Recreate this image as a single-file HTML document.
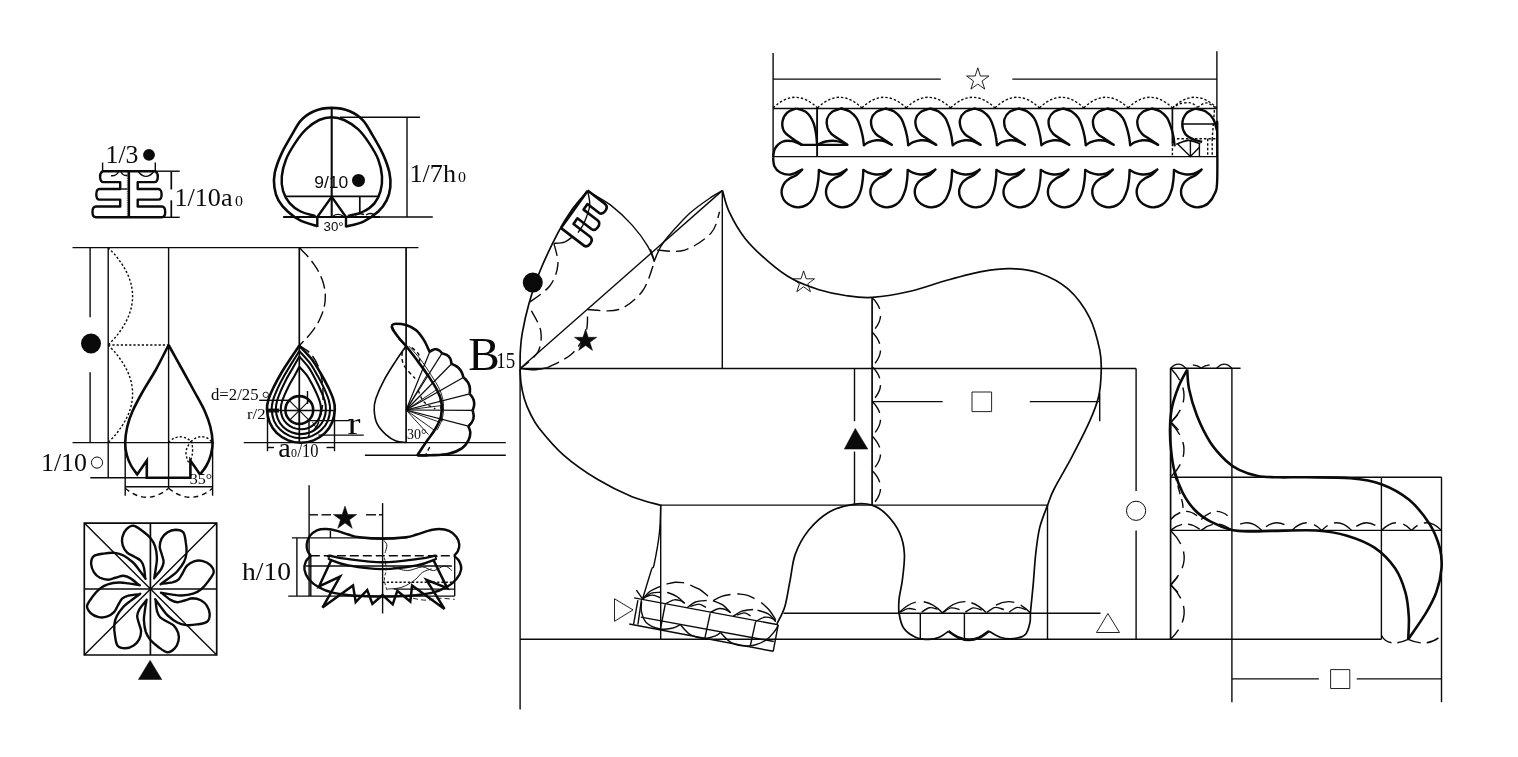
<!DOCTYPE html>
<html><head><meta charset="utf-8"><title>diagram</title>
<style>
html,body{margin:0;padding:0;background:#fff;}
body{width:1518px;height:757px;overflow:hidden;font-family:"Liberation Serif",serif;}
svg{display:block;will-change:transform;}
</style></head><body>
<svg width="1518" height="757" viewBox="0 0 1518 757" stroke-linecap="butt" stroke-linejoin="miter">
<path d="M102.6 162.5 L102.6 171.2" fill="none" stroke="#0a0a0a" stroke-width="1.4"/>
<path d="M155.3 162.5 L155.3 171.2" fill="none" stroke="#0a0a0a" stroke-width="1.4"/>
<path d="M155.3 171.2 L179.7 171.2" fill="none" stroke="#0a0a0a" stroke-width="1.4"/>
<path d="M163 217.3 L179.7 217.3" fill="none" stroke="#0a0a0a" stroke-width="1.4"/>
<path d="M171.3 172 L171.3 189.5" fill="none" stroke="#0a0a0a" stroke-width="1.7"/>
<path d="M171.3 200.3 L171.3 217.3" fill="none" stroke="#0a0a0a" stroke-width="1.7"/>
<path d="M102 171.2 L156 171.2" fill="none" stroke="#0a0a0a" stroke-width="2.4"/>
<path d="M102.6 171.2 C100.6 172.5 99.9 175 100.1 177.1 C100.3 180 101.4 182.1 103.4 182.1 L120.2 182.1 L120.2 189 L99.6 189 C97.2 189 96.3 192 96.3 194.4 C96.3 197.2 97.4 199.6 99.6 199.6 L120.2 199.6 L120.2 206.5 L96 206.5 C93.4 206.5 92.5 209.5 92.5 212 C92.5 214.6 93.6 217.3 96 217.3 L128.9 217.3" fill="none" stroke="#0a0a0a" stroke-width="2.4" stroke-linejoin="round"/>
<path d="M155.3 171.2 C157.3 172.5 158 175 157.8 177.1 C157.6 180 156.5 182.1 154.5 182.1 L137.7 182.1 L137.7 189 L158.2 189 C160.6 189 161.6 192 161.6 194.4 C161.6 197.2 160.5 199.6 158.2 199.6 L137.7 199.6 L137.7 206.5 L161.8 206.5 C164.4 206.5 165.2 209.5 165.2 212 C165.2 214.6 164.2 217.3 161.8 217.3 L128.9 217.3" fill="none" stroke="#0a0a0a" stroke-width="2.4" stroke-linejoin="round"/>
<path d="M128.9 171.2 L128.9 217.3" fill="none" stroke="#0a0a0a" stroke-width="2.4"/>
<path d="M127.3 171.2 L127.3 217.3" fill="none" stroke="#0a0a0a" stroke-width="0.7" stroke-dasharray="1.2 1"/>
<path d="M120.2 189 L127.5 189" fill="none" stroke="#0a0a0a" stroke-width="1.4"/>
<path d="M111 175.7 Q116 176.4 118.5 172" fill="none" stroke="#0a0a0a" stroke-width="1.4"/>
<path d="M121 172 Q123.1 175.9 127.5 175.5" fill="none" stroke="#0a0a0a" stroke-width="1.4"/>
<path d="M138.5 172 Q146 180.8 153.5 172" fill="none" stroke="#0a0a0a" stroke-width="1.4"/>
<text x="105.5" y="162.6" font-family="'Liberation Serif', serif" font-size="26" fill="#0a0a0a" text-anchor="start" textLength="33" lengthAdjust="spacingAndGlyphs">1/3</text>
<circle cx="149" cy="154.8" r="5.9" fill="#0a0a0a"/>
<text x="174.5" y="205.9" font-family="'Liberation Serif', serif" font-size="26" fill="#0a0a0a" text-anchor="start" textLength="58" lengthAdjust="spacingAndGlyphs">1/10a</text>
<text x="235" y="205.9" font-family="'Liberation Serif', serif" font-size="15" fill="#0a0a0a" text-anchor="start" textLength="8" lengthAdjust="spacingAndGlyphs">0</text>
<path d="M317.3 226.2 C314.5 225.3 305.6 223.1 300.7 220.7 C295.8 218.2 291.4 214.9 287.7 211.5 C284 208.1 280.7 204.4 278.5 200.4 C276.3 196.4 275 192 274.4 187.4 C273.8 182.8 273.6 178.2 274.8 172.6 C276 167 278.5 160.2 281.3 154.1 C284.1 147.9 288.1 141.3 291.4 135.7 C294.7 130.1 297.2 124.5 301 120.4 C304.8 116.3 308.9 113.3 314 111.2 C319.1 109.1 325.7 107.9 331.7 107.9 C337.7 107.9 344.6 109.1 349.8 111.2 C355 113.3 359.2 116.3 363 120.4 C366.8 124.5 369.5 130.1 372.8 135.7 C376.1 141.3 380.1 147.9 382.9 154.1 C385.7 160.2 388.2 167 389.4 172.6 C390.6 178.2 390.8 182.8 390.3 187.4 C389.8 192 388.6 196.4 386.6 200.4 C384.6 204.4 382.2 208 378.3 211.5 C374.4 215 368.9 219.1 363.5 221.6 C358.1 224.1 348.9 225.8 346 226.6" fill="none" stroke="#0a0a0a" stroke-width="2.6"/>
<path d="M317.3 227 L317.3 217" fill="none" stroke="#0a0a0a" stroke-width="2.4"/>
<path d="M346 227.4 L346 217" fill="none" stroke="#0a0a0a" stroke-width="2.4"/>
<path d="M315.5 216.1 C313 215.3 305 213.7 300.7 211.5 C296.4 209.3 292.5 206.5 289.6 203.1 C286.7 199.7 284.4 195.6 283.1 191.1 C281.8 186.6 281.3 181.5 281.8 176.3 C282.3 171.1 283.7 165.2 285.9 159.7 C288.1 154.2 291.7 148.2 295.1 143.1 C298.5 138 302.2 133 306.2 129.2 C310.2 125.3 314.9 122 319.1 120 C323.4 118 327.5 117.2 331.7 117.2 C335.9 117.2 339.7 118 344.1 120 C348.5 122 353.8 125.3 358 129.2 C362.2 133 365.7 138 369.1 143.1 C372.5 148.2 376.2 154.2 378.3 159.7 C380.4 165.2 381.6 171.1 382 176.3 C382.4 181.5 381.7 186.6 380.5 191.1 C379.3 195.6 377.4 199.7 374.6 203.1 C371.8 206.5 368 209.3 363.5 211.5 C359 213.7 350.4 215.3 347.8 216.1" fill="none" stroke="#0a0a0a" stroke-width="2.5"/>
<path d="M331.7 107.9 L331.7 217" fill="none" stroke="#0a0a0a" stroke-width="2.1"/>
<path d="M285 196.3 L378.3 196.3" fill="none" stroke="#0a0a0a" stroke-width="1.7"/>
<path d="M317.3 217 L331.7 196.8 L346 217" fill="none" stroke="#0a0a0a" stroke-width="2.4"/>
<path d="M359.8 196.3 L359.8 213.3" fill="none" stroke="#0a0a0a" stroke-width="1.7"/>
<path d="M283.1 217 L380 217" fill="none" stroke="#0a0a0a" stroke-width="1.9"/>
<path d="M380 217 L432.8 217" fill="none" stroke="#0a0a0a" stroke-width="1.4"/>
<path d="M340 117.2 L419.9 117.2" fill="none" stroke="#0a0a0a" stroke-width="1.4"/>
<path d="M407 117.2 L407 217" fill="none" stroke="#0a0a0a" stroke-width="1.4"/>
<path d="M333 216 Q338 212.8 343 216" fill="none" stroke="#0a0a0a" stroke-width="1.4"/>
<path d="M355 215.5 Q359.2 212.6 364 214.5" fill="none" stroke="#0a0a0a" stroke-width="1.4"/>
<path d="M366 215 Q369.9 212.4 374 214.5" fill="none" stroke="#0a0a0a" stroke-width="1.4"/>
<text x="314.3" y="188.4" font-family="'Liberation Sans', serif" font-size="17" fill="#0a0a0a" text-anchor="start" textLength="34" lengthAdjust="spacingAndGlyphs">9/10</text>
<circle cx="358.5" cy="180.4" r="6.5" fill="#0a0a0a"/>
<text x="323.6" y="231" font-family="'Liberation Sans', serif" font-size="13.5" fill="#0a0a0a" text-anchor="start" textLength="20" lengthAdjust="spacingAndGlyphs">30°</text>
<text x="409.5" y="182.2" font-family="'Liberation Serif', serif" font-size="26" fill="#0a0a0a" text-anchor="start" textLength="46.5" lengthAdjust="spacingAndGlyphs">1/7h</text>
<text x="458" y="182.2" font-family="'Liberation Serif', serif" font-size="15" fill="#0a0a0a" text-anchor="start" textLength="8" lengthAdjust="spacingAndGlyphs">0</text>
<path d="M72.5 247.6 L418.4 247.6" fill="none" stroke="#0a0a0a" stroke-width="1.4"/>
<path d="M90.1 247.6 L90.1 317.3" fill="none" stroke="#0a0a0a" stroke-width="1.4"/>
<path d="M90.1 372.2 L90.1 442.6" fill="none" stroke="#0a0a0a" stroke-width="1.4"/>
<path d="M108.2 247.6 L108.2 477.8" fill="none" stroke="#0a0a0a" stroke-width="1.4"/>
<path d="M168.6 247.6 L168.6 488" fill="none" stroke="#0a0a0a" stroke-width="1.4"/>
<path d="M299.3 247.6 L299.3 442.3" fill="none" stroke="#0a0a0a" stroke-width="1.7"/>
<path d="M406.1 247.6 L406.1 442.5" fill="none" stroke="#0a0a0a" stroke-width="1.7"/>
<path d="M72.5 442.6 L213.4 442.6" fill="none" stroke="#0a0a0a" stroke-width="1.4"/>
<path d="M243.7 442.6 L505.8 442.6" fill="none" stroke="#0a0a0a" stroke-width="1.4"/>
<path d="M364.9 455.3 L505.8 455.3" fill="none" stroke="#0a0a0a" stroke-width="1.4"/>
<path d="M90.3 477.8 L147 477.8" fill="none" stroke="#0a0a0a" stroke-width="1.4"/>
<circle cx="91" cy="343.5" r="10" fill="#0a0a0a"/>
<path d="M108.2 247.6 C109.4 249 113.4 253 115.7 255.7 C117.9 258.4 119.9 261.1 121.8 263.8 C123.6 266.5 125.1 269.2 126.5 271.9 C127.9 274.7 129 277.4 129.9 280.1 C130.8 282.8 131.5 285.5 131.9 288.2 C132.4 290.9 132.6 293.6 132.6 296.3 C132.6 299 132.4 301.7 131.9 304.4 C131.5 307.1 130.8 309.8 129.9 312.5 C129 315.2 127.9 317.9 126.5 320.6 C125.1 323.4 123.6 326.1 121.8 328.8 C119.9 331.5 117.9 334.2 115.7 336.9 C113.4 339.6 109.4 343.6 108.2 345" fill="none" stroke="#0a0a0a" stroke-width="1.4" stroke-dasharray="2.2 2"/>
<path d="M108.2 345 C109.4 346.4 113.4 350.4 115.7 353.1 C117.9 355.8 119.9 358.6 121.8 361.3 C123.6 364 125.1 366.7 126.5 369.4 C127.9 372.1 129 374.8 129.9 377.5 C130.8 380.2 131.5 383 131.9 385.7 C132.4 388.4 132.6 391.1 132.6 393.8 C132.6 396.5 132.4 399.2 131.9 401.9 C131.5 404.6 130.8 407.4 129.9 410.1 C129 412.8 127.9 415.5 126.5 418.2 C125.1 420.9 123.6 423.6 121.8 426.3 C119.9 429 117.9 431.8 115.7 434.5 C113.4 437.2 109.4 441.2 108.2 442.6" fill="none" stroke="#0a0a0a" stroke-width="1.4" stroke-dasharray="2.2 2"/>
<path d="M108.2 345 L168.6 345" fill="none" stroke="#0a0a0a" stroke-width="1.4" stroke-dasharray="2.2 2"/>
<path d="M168.6 345 C166.4 349.2 160 362.2 155.7 370 C151.3 377.8 146.3 385.2 142.5 392 C138.7 398.8 135.2 405.2 132.6 411 C130 416.8 128.4 421.7 127.2 427 C126 432.3 125.3 437.9 125.2 442.6 C125.1 447.3 125.8 451.2 126.8 455 C127.8 458.8 129.3 462.3 131 465.5 C132.7 468.7 136.2 472.9 137.2 474.4 L146.8 460.6 L146.8 477.8 L190.4 477.8 L190.4 460.6 L200.1 474.4" fill="none" stroke="#0a0a0a" stroke-width="2.6" stroke-linejoin="miter"/>
<path d="M200.1 474.4 C201.2 472.9 204.7 468.7 206.5 465.5 C208.3 462.3 209.8 458.8 210.8 455 C211.8 451.2 212.7 447.3 212.6 442.6 C212.5 437.9 211.7 432.3 210.4 427 C209.1 421.7 207.3 416.8 204.7 411 C202.1 405.2 198.3 398.8 194.6 392 C190.9 385.2 186.8 377.8 182.5 370 C178.2 362.2 170.9 349.2 168.6 345" fill="none" stroke="#0a0a0a" stroke-width="2.6"/>
<path d="M125.2 442.6 L125.2 495.7" fill="none" stroke="#0a0a0a" stroke-width="1.4"/>
<path d="M212.6 442.6 L212.6 495.7" fill="none" stroke="#0a0a0a" stroke-width="1.4"/>
<path d="M125.2 486.8 L212.6 486.8" fill="none" stroke="#0a0a0a" stroke-width="1.4"/>
<path d="M125.2 488.3 Q146.9 506.3 168.6 488.3" fill="none" stroke="#0a0a0a" stroke-width="1.4" stroke-dasharray="5 4"/>
<path d="M168.6 488.3 Q190.6 506.3 212.6 488.3" fill="none" stroke="#0a0a0a" stroke-width="1.4" stroke-dasharray="5 4"/>
<path d="M168.6 442.3 C169.5 441.6 171.9 439.1 174 438.2 C176.1 437.3 178.8 436.8 181 436.8 C183.2 436.9 185.3 437.7 187 438.5 C188.7 439.3 190.3 441 191 441.5" fill="none" stroke="#0a0a0a" stroke-width="1.4" stroke-dasharray="2.2 2"/>
<path d="M191 441.5 C191.8 440.9 194.2 438.6 196 437.8 C197.8 437 200 436.7 202 436.8 C204 436.9 206.2 437.5 208 438.5 C209.8 439.5 211.8 441.9 212.6 442.6" fill="none" stroke="#0a0a0a" stroke-width="1.4" stroke-dasharray="2.2 2"/>
<path d="M191.5 441 C190.8 442 188.4 445 187.5 447 C186.6 449 186 450.8 186 453 C186 455.2 186.8 458 187.5 460 C188.2 462 189.9 464.2 190.4 465" fill="none" stroke="#0a0a0a" stroke-width="1.4" stroke-dasharray="2.2 2"/>
<path d="M191.5 441 C191.7 442.3 192.5 446.5 192.6 449 C192.7 451.5 192.4 454 192 456 C191.6 458 190.7 460.2 190.4 461" fill="none" stroke="#0a0a0a" stroke-width="1.4" stroke-dasharray="2.2 2"/>
<text x="189.7" y="483.8" font-family="'Liberation Serif', serif" font-size="15.5" fill="#0a0a0a" text-anchor="start" textLength="22.5" lengthAdjust="spacingAndGlyphs">35°</text>
<text x="41" y="470.8" font-family="'Liberation Serif', serif" font-size="26" fill="#0a0a0a" text-anchor="start" textLength="46" lengthAdjust="spacingAndGlyphs">1/10</text>
<circle cx="97" cy="462.6" r="5.6" fill="none" stroke="#0a0a0a" stroke-width="1"/>
<path d="M299.3 345.6 C297.8 347.8 293.3 354.3 290.4 358.8 C287.4 363.3 284.4 367.7 281.6 372.5 C278.8 377.3 275.6 383.1 273.4 387.6 C271.3 392.1 269.6 395.7 268.5 399.4 C267.4 403 266.8 405.7 267 409.6 C267.2 413.5 268 418.7 269.7 422.6 C271.3 426.5 273.8 430.1 276.9 433.1 C280 436 284.2 438.8 288.2 440.4 C292.2 442 296.7 442.8 300.9 442.8 C305.1 442.8 309.6 442 313.6 440.4 C317.6 438.8 321.8 436 324.9 433.1 C328 430.1 330.5 426.5 332.1 422.6 C333.8 418.7 334.6 413.5 334.8 409.6 C335 405.7 334.4 403 333.3 399.4 C332.2 395.7 330.5 392.1 328.4 387.6 C326.2 383.1 323 377.3 320.2 372.5 C317.4 367.7 314.9 363.3 311.4 358.8 C307.9 354.3 301.3 347.8 299.3 345.6" fill="none" stroke="#0a0a0a" stroke-width="2.6"/>
<path d="M299.3 351 C298.1 353 294.4 359 291.8 363.1 C289.3 367.2 286.7 371.2 284.3 375.6 C281.8 380 279.1 385.3 277.2 389.4 C275.4 393.5 273.9 396.9 273 400.2 C272.1 403.6 271.5 406.2 271.7 409.6 C271.9 413 272.6 417.4 274 420.8 C275.4 424.1 277.6 427.3 280.3 429.8 C282.9 432.4 286.5 434.7 290 436.1 C293.4 437.5 297.3 438.2 300.9 438.2 C304.5 438.2 308.4 437.5 311.8 436.1 C315.3 434.7 318.9 432.4 321.5 429.8 C324.2 427.3 326.4 424.1 327.8 420.8 C329.2 417.4 329.9 413 330.1 409.6 C330.3 406.2 329.7 403.6 328.8 400.2 C327.9 396.9 326.4 393.5 324.6 389.4 C322.7 385.3 320 380 317.5 375.6 C315.1 371.2 313 367.2 310 363.1 C306.9 359 301.1 353 299.3 351" fill="none" stroke="#0a0a0a" stroke-width="2.1"/>
<path d="M299.3 356.5 C298.3 358.3 295.3 363.7 293.1 367.4 C291 371.2 288.7 374.8 286.6 378.8 C284.6 382.8 282.3 387.6 280.6 391.3 C279 395.1 277.8 398.1 277 401.1 C276.2 404.1 275.8 406.6 275.9 409.6 C276 412.6 276.7 416.3 277.9 419.2 C279.1 422.1 280.9 424.7 283.2 426.9 C285.5 429.1 288.6 431.1 291.5 432.3 C294.5 433.5 297.8 434.1 300.9 434.1 C304 434.1 307.3 433.5 310.3 432.3 C313.2 431.1 316.3 429.1 318.6 426.9 C320.9 424.7 322.7 422.1 323.9 419.2 C325.1 416.3 325.8 412.6 325.9 409.6 C326 406.6 325.6 404.1 324.8 401.1 C324 398.1 322.8 395.1 321.1 391.3 C319.5 387.6 317.2 382.8 315.1 378.8 C313.1 374.8 311.3 371.2 308.6 367.4 C306 363.7 300.9 358.3 299.3 356.5" fill="none" stroke="#0a0a0a" stroke-width="2.1"/>
<path d="M299.3 366.8 C298.5 368.3 296.3 372.6 294.7 375.6 C293 378.6 291.1 381.6 289.4 384.8 C287.8 388 285.9 391.9 284.6 394.9 C283.3 397.9 282.3 400.3 281.7 402.8 C281 405.2 280.7 407.2 280.8 409.6 C280.9 412 281.4 415 282.4 417.3 C283.4 419.6 284.9 421.8 286.7 423.5 C288.5 425.3 291 426.9 293.4 427.9 C295.7 428.8 298.4 429.3 300.9 429.3 C303.4 429.3 306.1 428.8 308.4 427.9 C310.8 426.9 313.3 425.3 315.1 423.5 C316.9 421.8 318.4 419.6 319.4 417.3 C320.4 415 320.9 412 321 409.6 C321.1 407.2 320.8 405.2 320.1 402.8 C319.5 400.3 318.5 397.9 317.2 394.9 C315.9 391.9 314 388 312.4 384.8 C310.7 381.6 309.3 378.6 307.1 375.6 C305 372.6 300.6 368.3 299.3 366.8" fill="none" stroke="#0a0a0a" stroke-width="2.1"/>
<circle cx="299.3" cy="410" r="13.9" fill="none" stroke="#0a0a0a" stroke-width="2.6"/>
<path d="M285.3 410.5 L313.3 410.5" fill="none" stroke="#0a0a0a" stroke-width="1.1"/>
<path d="M289.4 400.6 L309.2 420.4" fill="none" stroke="#0a0a0a" stroke-width="1.1"/>
<path d="M299.3 396.5 L299.3 424.5" fill="none" stroke="#0a0a0a" stroke-width="1.1"/>
<path d="M309.2 400.6 L289.4 420.4" fill="none" stroke="#0a0a0a" stroke-width="1.1"/>
<path d="M267.5 410.5 L335 410.5" fill="none" stroke="#0a0a0a" stroke-width="1.4"/>
<path d="M259.2 400.3 L288.8 400.3" fill="none" stroke="#0a0a0a" stroke-width="1.4"/>
<path d="M267 409.3 L279 409.3" fill="none" stroke="#0a0a0a" stroke-width="1.4"/>
<path d="M267 411.8 L279 411.8" fill="none" stroke="#0a0a0a" stroke-width="1.4"/>
<path d="M267.5 411.4 L267.5 451.2" fill="none" stroke="#0a0a0a" stroke-width="1.4"/>
<path d="M334.5 411.4 L334.5 451.2" fill="none" stroke="#0a0a0a" stroke-width="1.4"/>
<path d="M267.5 447.5 L274 447.5" fill="none" stroke="#0a0a0a" stroke-width="1.4"/>
<path d="M326.5 447.5 L334.5 447.5" fill="none" stroke="#0a0a0a" stroke-width="1.4"/>
<path d="M308.2 420.6 L349.8 420.6" fill="none" stroke="#0a0a0a" stroke-width="1.4"/>
<path d="M318.4 435.1 L363.7 435.1" fill="none" stroke="#0a0a0a" stroke-width="1.4"/>
<path d="M307.5 391 L307.5 404" fill="none" stroke="#0a0a0a" stroke-width="1.4"/>
<path d="M309 420.6 L309 437" fill="none" stroke="#0a0a0a" stroke-width="1.4"/>
<path d="M312.5 422 L316.5 428.5 L322 411" fill="none" stroke="#0a0a0a" stroke-width="0.9"/>
<path d="M299.3 247.6 C300.6 249 304.8 253.1 307.2 255.8 C309.7 258.5 311.8 261.2 313.7 263.9 C315.7 266.7 317.4 269.4 318.8 272.1 C320.2 274.9 321.4 277.6 322.4 280.3 C323.4 283 324.1 285.8 324.6 288.5 C325.1 291.2 325.3 293.9 325.3 296.6 C325.3 299.4 325.1 302.1 324.6 304.8 C324.1 307.6 323.4 310.3 322.4 313 C321.4 315.7 320.2 318.4 318.8 321.2 C317.4 323.9 315.7 326.6 313.7 329.4 C311.8 332.1 309.7 334.8 307.2 337.5 C304.8 340.2 300.6 344.3 299.3 345.7" fill="none" stroke="#0a0a0a" stroke-width="1.4" stroke-dasharray="13 5"/>
<path d="M299.3 345.6 C301.1 346.8 306.8 349.8 309.9 353 C313 356.2 315.8 360.9 317.7 365 C319.6 369.1 320.7 373.4 321.6 377.9 C322.5 382.3 322.9 386.8 323 391.7 C323.1 396.6 323.2 401.7 322.3 407.1 C321.4 412.5 320.1 419.4 317.7 424.3 C315.3 429.2 309.8 434.3 308.2 436.3" fill="none" stroke="#0a0a0a" stroke-width="1.4" stroke-dasharray="12 5"/>
<text x="211" y="399.6" font-family="'Liberation Serif', serif" font-size="16" fill="#0a0a0a" text-anchor="start" textLength="47.5" lengthAdjust="spacingAndGlyphs">d=2/25</text>
<circle cx="265.8" cy="394.8" r="2.7" fill="none" stroke="#0a0a0a" stroke-width="0.9"/>
<text x="247" y="418.9" font-family="'Liberation Serif', serif" font-size="15.5" fill="#0a0a0a" text-anchor="start" textLength="18.5" lengthAdjust="spacingAndGlyphs">r/2</text>
<text x="347.5" y="433.8" font-family="'Liberation Serif', serif" font-size="31" fill="#0a0a0a" text-anchor="start" textLength="13" lengthAdjust="spacingAndGlyphs">r</text>
<text x="278.3" y="457.3" font-family="'Liberation Serif', serif" font-size="27" fill="#0a0a0a" text-anchor="start" textLength="12.5" lengthAdjust="spacingAndGlyphs">a</text>
<text x="291" y="457.3" font-family="'Liberation Serif', serif" font-size="12" fill="#0a0a0a" text-anchor="start" textLength="6" lengthAdjust="spacingAndGlyphs">0</text>
<text x="297.5" y="457.3" font-family="'Liberation Serif', serif" font-size="19" fill="#0a0a0a" text-anchor="start" textLength="21" lengthAdjust="spacingAndGlyphs">/10</text>
<path d="M406.1 346 C404.4 348.4 399.7 354.8 396 360.6 C392.3 366.4 387 374.4 383.7 380.8 C380.3 387.1 377.4 393.9 375.8 398.7 C374.2 403.6 374 405.8 374.2 410 C374.4 414.1 375 419.3 376.9 423.4 C378.9 427.5 382.7 431.7 385.9 434.6 C389.1 437.6 392.6 439.6 396 440.9 C399.4 442.2 404.4 442.2 406.1 442.5" fill="none" stroke="#0a0a0a" stroke-width="1.6"/>
<path d="M406.1 346 C408 348.4 413.6 355.5 417.3 360.6 C421.1 365.6 425.2 371.3 428.5 376.3 C431.9 381.4 435.4 386.4 437.5 390.9 C439.7 395.4 441 398.9 441.6 403.2 C442.1 407.5 441.9 412.4 440.9 416.7 C439.8 421 437.5 425.1 435.3 429 C433 433 430.4 435.9 427.4 440.3 C424.4 444.6 419 452.8 417.3 455.3" fill="none" stroke="#0a0a0a" stroke-width="2.6"/>
<path d="M408.8 346 C410.7 348.1 416.3 353.9 420 358.8 C423.8 363.7 427.9 370 431.2 375.2 C434.5 380.3 437.7 385.1 439.8 389.8 C441.8 394.4 442.9 398.6 443.4 403.2 C443.8 407.9 443.5 413.3 442.5 417.8 C441.4 422.3 438 428.1 437.1 430.2" fill="none" stroke="#0a0a0a" stroke-width="0.9"/>
<path d="M406.1 346 C404.8 344.5 400.5 339.8 398.2 337 C396 334.2 393.6 331.2 392.6 329.2 C391.6 327.2 391.6 326 392.2 325.1 C392.8 324.2 393.7 323.8 396 323.8 C398.3 323.8 402.7 324 406.1 325.1 C409.5 326.2 413.2 327.8 416.2 330.3 C419.2 332.8 421.8 336.8 424.1 340.4 C426.3 344 428.7 350.1 429.7 352.1" fill="none" stroke="#0a0a0a" stroke-width="2.6"/>
<path d="M392.6 326.5 C393.2 327.7 394.7 331.2 396 333.7 C397.3 336.2 398.8 339.5 400.5 341.5 C402.2 343.6 405.2 345.3 406.1 346" fill="none" stroke="#0a0a0a" stroke-width="0.9"/>
<path d="M429.7 352.1 C430 351.8 430.8 351.1 431.4 350.7 C431.9 350.4 432.5 350.1 433 349.8 C433.6 349.6 434.1 349.4 434.6 349.3 C435.2 349.3 435.7 349.2 436.2 349.3 C436.7 349.4 437.2 349.5 437.7 349.7 C438.2 349.9 438.7 350.2 439.2 350.5 C439.7 350.8 440.2 351.3 440.6 351.7 C441.1 352.2 441.8 353.1 442 353.4" fill="none" stroke="#0a0a0a" stroke-width="2.6"/>
<path d="M442 353.4 C442.4 353.5 443.5 353.7 444.2 353.9 C444.8 354.1 445.4 354.3 446 354.6 C446.6 354.8 447.1 355.2 447.6 355.5 C448.1 355.9 448.5 356.3 448.9 356.7 C449.3 357.2 449.7 357.6 450 358.2 C450.3 358.7 450.5 359.2 450.7 359.8 C450.9 360.4 451.1 361.1 451.2 361.8 C451.3 362.5 451.4 363.6 451.4 364" fill="none" stroke="#0a0a0a" stroke-width="2.6"/>
<path d="M451.4 364 C451.8 364.1 453.1 364.5 453.8 364.9 C454.6 365.2 455.3 365.6 455.9 366 C456.6 366.4 457.2 366.8 457.8 367.3 C458.4 367.8 458.9 368.3 459.4 368.9 C459.9 369.5 460.4 370.1 460.8 370.7 C461.2 371.3 461.6 372 461.9 372.7 C462.2 373.4 462.5 374.2 462.7 375 C463 375.7 463.2 377 463.3 377.4" fill="none" stroke="#0a0a0a" stroke-width="2.6"/>
<path d="M463.3 377.4 C463.6 377.7 464.6 378.5 465.2 379 C465.8 379.6 466.3 380.2 466.8 380.8 C467.3 381.4 467.7 382 468.1 382.7 C468.4 383.3 468.7 384 469 384.6 C469.3 385.3 469.5 386 469.6 386.8 C469.8 387.5 469.9 388.2 469.9 389 C470 389.7 470 390.5 469.9 391.3 C469.9 392.1 469.7 393.4 469.6 393.8" fill="none" stroke="#0a0a0a" stroke-width="2.6"/>
<path d="M469.6 393.8 C469.9 394.1 470.8 395 471.3 395.7 C471.7 396.3 472.2 396.9 472.5 397.6 C472.9 398.2 473.2 398.9 473.4 399.6 C473.7 400.2 473.9 400.9 474 401.6 C474.1 402.3 474.2 403 474.2 403.7 C474.2 404.4 474.1 405.1 474 405.9 C473.9 406.6 473.7 407.4 473.4 408.1 C473.2 408.9 472.7 410 472.5 410.4" fill="none" stroke="#0a0a0a" stroke-width="2.6"/>
<path d="M472.5 410.4 C472.7 410.8 473.1 412 473.2 412.7 C473.4 413.5 473.5 414.2 473.6 414.9 C473.7 415.6 473.7 416.3 473.6 417 C473.6 417.7 473.4 418.4 473.3 419 C473.1 419.7 472.8 420.3 472.5 421 C472.2 421.6 471.9 422.2 471.5 422.8 C471.1 423.4 470.6 423.9 470.1 424.5 C469.5 425.1 468.6 425.9 468.3 426.1" fill="none" stroke="#0a0a0a" stroke-width="2.6"/>
<path d="M468.3 426.1 C468.6 427.2 470.2 430 470.3 432.4 C470.3 434.8 469.8 437.6 468.5 440.3 C467.1 442.9 465.5 445.9 462.2 448.1 C458.9 450.4 454 452.5 448.7 453.7 C443.5 454.9 436 455 430.8 455.3 C425.6 455.6 419.6 455.3 417.3 455.3" fill="none" stroke="#0a0a0a" stroke-width="2.6"/>
<path d="M417.3 455.3 L427.4 455.3" fill="none" stroke="#0a0a0a" stroke-width="2.4"/>
<path d="M406.1 410 L429.7 352.1" fill="none" stroke="#0a0a0a" stroke-width="1.2"/>
<path d="M406.1 410 L442 353.4" fill="none" stroke="#0a0a0a" stroke-width="1.2"/>
<path d="M406.1 410 L451.4 364" fill="none" stroke="#0a0a0a" stroke-width="1.2"/>
<path d="M406.1 410 L463.3 377.4" fill="none" stroke="#0a0a0a" stroke-width="1.2"/>
<path d="M406.1 410 L469.6 393.8" fill="none" stroke="#0a0a0a" stroke-width="1.2"/>
<path d="M406.1 410 L472.5 410.4" fill="none" stroke="#0a0a0a" stroke-width="1.2"/>
<path d="M406.1 410 L468.3 426.1" fill="none" stroke="#0a0a0a" stroke-width="1.2"/>
<path d="M406.1 410 L427.4 374.1" fill="none" stroke="#0a0a0a" stroke-width="0.9"/>
<path d="M406.1 410 L436.4 389.8" fill="none" stroke="#0a0a0a" stroke-width="0.9"/>
<path d="M406.1 410 L442 405.5" fill="none" stroke="#0a0a0a" stroke-width="0.9"/>
<path d="M406.1 410 L439.8 422.3" fill="none" stroke="#0a0a0a" stroke-width="0.9"/>
<path d="M406.1 410 L434.2 430.2" fill="none" stroke="#0a0a0a" stroke-width="0.9"/>
<path d="M406.1 410 L428.5 434.6" fill="none" stroke="#0a0a0a" stroke-width="0.9"/>
<path d="M406.1 346 C405.4 347.3 402.4 350.7 402.1 353.9 C401.7 357 401.7 361 403.9 365.1 C406 369.2 413.2 376.3 415.1 378.5" fill="none" stroke="#0a0a0a" stroke-width="1.4" stroke-dasharray="4 3"/>
<path d="M411.7 347.6 C412.8 348.6 417.1 351.5 418.4 353.9 C419.8 356.2 419.4 360.4 419.6 361.7" fill="none" stroke="#0a0a0a" stroke-width="1.4" stroke-dasharray="4 3"/>
<path d="M418.4 390.9 C419.4 392.8 421.3 399.1 424.1 402.1 C426.9 405.1 433.4 407.7 435.3 408.8" fill="none" stroke="#0a0a0a" stroke-width="1.4" stroke-dasharray="3 3"/>
<path d="M439.8 394.3 L442 421.2" fill="none" stroke="#0a0a0a" stroke-width="1.4" stroke-dasharray="3 3"/>
<path d="M429.7 447 L425.9 454.4" fill="none" stroke="#0a0a0a" stroke-width="1.4" stroke-dasharray="4 3"/>
<text x="407" y="439.2" font-family="'Liberation Serif', serif" font-size="14.5" fill="#0a0a0a" text-anchor="start" textLength="19.5" lengthAdjust="spacingAndGlyphs">30°</text>
<text x="468.2" y="369.5" font-family="'Liberation Serif', serif" font-size="45.5" fill="#0a0a0a" text-anchor="start" textLength="31.5" lengthAdjust="spacingAndGlyphs">B</text>
<text x="496.3" y="368.4" font-family="'Liberation Serif', serif" font-size="24" fill="#0a0a0a" text-anchor="start" textLength="19" lengthAdjust="spacingAndGlyphs">15</text>
<path d="M84.3 523.1 L216.7 523.1 L216.7 655 L84.3 655Z" fill="none" stroke="#0a0a0a" stroke-width="1.7"/>
<path d="M84.3 523.1 L216.7 655" fill="none" stroke="#0a0a0a" stroke-width="1.4"/>
<path d="M216.7 523.1 L84.3 655" fill="none" stroke="#0a0a0a" stroke-width="1.4"/>
<path d="M150.4 523.1 L150.4 655" fill="none" stroke="#0a0a0a" stroke-width="1.7"/>
<path d="M84.3 589 L216.7 589" fill="none" stroke="#0a0a0a" stroke-width="1.7"/>
<path d="M145.2 578.2 C145 576.3 144.6 569.9 143.8 567 C143.1 564.1 142.3 562.4 140.7 560.7 C139.1 559 136.7 558.1 134.4 556.7 C132.2 555.4 129.2 554.5 127.2 552.6 C125.2 550.7 123.5 548 122.7 545.4 C121.9 542.8 121.7 540 122.3 537.3 C122.9 534.6 124.4 531.2 126.3 529.3 C128.2 527.4 130.8 525.4 133.5 525.7 C136.2 526 139.7 528.9 142.5 531 C145.3 533.1 148.5 535.7 150.6 538.2 C152.7 540.8 154 543 155.1 546.3 C156.2 549.6 156.8 554.5 156.9 558 C157.1 561.5 156.4 563.6 156 567 C155.6 570.4 154.5 576.5 154.2 578.4 M154.4 577.7 C155.5 576.2 159.8 571.4 161.3 568.8 C162.8 566.2 163.4 564.5 163.6 562.1 C163.7 559.8 162.6 557.4 161.9 554.8 C161.3 552.3 159.8 549.6 159.7 546.9 C159.7 544.1 160.4 541 161.6 538.6 C162.9 536.2 164.8 534 167.1 532.6 C169.4 531.1 172.9 529.8 175.6 529.7 C178.3 529.7 181.5 530.2 183.2 532.3 C184.9 534.4 185.3 538.9 185.8 542.4 C186.4 545.9 186.8 549.9 186.5 553.2 C186.1 556.5 185.5 559.1 183.9 562.1 C182.3 565.2 179.2 569.1 176.9 571.7 C174.6 574.2 172.6 575.3 169.9 577.4 C167.2 579.5 162.1 583.1 160.6 584.2 M161.2 583.8 C163.1 583.6 169.5 583.1 172.4 582.4 C175.3 581.6 177 580.9 178.7 579.3 C180.4 577.7 181.3 575.2 182.7 573 C184 570.8 184.9 567.8 186.8 565.8 C188.7 563.8 191.4 562.1 194 561.3 C196.6 560.5 199.4 560.3 202.1 560.9 C204.8 561.5 208.2 563 210.1 564.9 C212 566.8 214 569.4 213.7 572.1 C213.4 574.8 210.5 578.2 208.4 581.1 C206.3 584 203.8 587.1 201.2 589.2 C198.6 591.3 196.4 592.7 193.1 593.7 C189.8 594.8 184.9 595.4 181.4 595.5 C177.9 595.6 175.8 595.1 172.4 594.6 C169 594.1 162.9 593.1 161 592.8 M161.7 593 C163.2 594.1 168 598.4 170.6 599.9 C173.2 601.4 174.9 602 177.3 602.2 C179.6 602.3 182 601.2 184.6 600.5 C187.1 599.9 189.8 598.4 192.5 598.3 C195.3 598.3 198.4 599 200.8 600.2 C203.2 601.5 205.4 603.4 206.8 605.7 C208.3 608 209.6 611.5 209.7 614.2 C209.7 616.9 209.2 620.1 207.1 621.8 C205 623.5 200.5 623.9 197 624.4 C193.5 625 189.5 625.4 186.2 625.1 C182.9 624.7 180.3 624.1 177.3 622.5 C174.2 620.9 170.3 617.8 167.7 615.5 C165.2 613.2 164.1 611.2 162 608.5 C159.9 605.8 156.3 600.7 155.2 599.2 M155.6 599.8 C155.8 601.7 156.2 608.1 157 611 C157.8 613.9 158.5 615.6 160.1 617.3 C161.7 619 164.2 619.9 166.4 621.3 C168.7 622.6 171.7 623.5 173.6 625.4 C175.5 627.3 177.3 630 178.1 632.6 C178.9 635.2 179.1 638 178.5 640.7 C177.9 643.4 176.4 646.8 174.5 648.7 C172.6 650.6 170 652.6 167.3 652.3 C164.6 652 161.2 649.1 158.3 647 C155.5 644.9 152.3 642.3 150.2 639.8 C148.1 637.2 146.8 635 145.7 631.7 C144.7 628.4 144.1 623.5 143.9 620 C143.8 616.5 144.4 614.4 144.8 611 C145.2 607.6 146.3 601.5 146.6 599.6 M146.4 600.3 C145.3 601.8 141 606.6 139.5 609.2 C138 611.8 137.4 613.5 137.2 615.9 C137.1 618.2 138.2 620.6 138.9 623.2 C139.5 625.7 141 628.4 141.1 631.1 C141.1 633.9 140.4 637 139.2 639.4 C137.9 641.8 136 644 133.7 645.4 C131.4 646.9 127.9 648.2 125.2 648.3 C122.5 648.3 119.3 647.8 117.6 645.7 C115.9 643.6 115.5 639.1 115 635.6 C114.4 632.1 114 628.1 114.3 624.8 C114.7 621.5 115.3 618.9 116.9 615.9 C118.5 612.8 121.6 608.9 123.9 606.3 C126.2 603.8 128.2 602.7 130.9 600.6 C133.6 598.5 138.7 594.9 140.2 593.8 M139.6 594.2 C137.7 594.4 131.3 594.9 128.4 595.6 C125.5 596.4 123.8 597.1 122.1 598.7 C120.4 600.3 119.5 602.8 118.1 605 C116.8 607.2 115.9 610.2 114 612.2 C112.1 614.2 109.4 615.9 106.8 616.7 C104.3 617.5 101.4 617.7 98.7 617.1 C96 616.5 92.6 615 90.7 613.1 C88.8 611.2 86.8 608.6 87.1 605.9 C87.4 603.2 90.3 599.8 92.4 596.9 C94.5 594 97.1 590.9 99.6 588.8 C102.2 586.7 104.4 585.3 107.7 584.3 C111 583.2 116 582.6 119.4 582.5 C122.9 582.4 125 582.9 128.4 583.4 C131.8 583.9 137.9 584.9 139.8 585.2 M139.1 585 C137.6 583.9 132.8 579.6 130.2 578.1 C127.6 576.6 125.9 576 123.5 575.8 C121.2 575.7 118.8 576.8 116.2 577.5 C113.7 578.1 111 579.6 108.3 579.7 C105.5 579.7 102.4 579 100 577.8 C97.6 576.5 95.4 574.6 94 572.3 C92.5 570 91.2 566.5 91.1 563.8 C91.1 561.1 91.6 557.9 93.7 556.2 C95.8 554.5 100.3 554.1 103.8 553.6 C107.3 553 111.3 552.6 114.6 552.9 C117.9 553.3 120.5 553.9 123.5 555.5 C126.6 557.1 130.5 560.2 133.1 562.5 C135.6 564.8 136.7 566.8 138.8 569.5 C140.9 572.2 144.5 577.3 145.6 578.8 " fill="none" stroke="#0a0a0a" stroke-width="2.4" stroke-linejoin="round" stroke-linecap="round"/>
<path d="M150.1 660.3 L161.8 679.5 L138.4 679.5Z" fill="#0a0a0a" stroke="#0a0a0a" stroke-width="0.5"/>
<path d="M309.1 485.2 L309.1 596.1" fill="none" stroke="#0a0a0a" stroke-width="1.4"/>
<path d="M382.6 503.1 L382.6 613.5" fill="none" stroke="#0a0a0a" stroke-width="1.4"/>
<path d="M309.1 514.8 L318 514.8" fill="none" stroke="#0a0a0a" stroke-width="1.4"/>
<path d="M321.5 514.8 L331 514.8" fill="none" stroke="#0a0a0a" stroke-width="1.4"/>
<path d="M366 514.8 L376 514.8" fill="none" stroke="#0a0a0a" stroke-width="1.4"/>
<path d="M379 514.8 L382.6 514.8" fill="none" stroke="#0a0a0a" stroke-width="1.4"/>
<path d="M345 506 L347.8 514.5 L356.7 514.5 L349.5 519.8 L352.2 528.3 L345 523 L337.8 528.3 L340.5 519.8 L333.3 514.5 L342.2 514.5Z" fill="#0a0a0a" stroke="#0a0a0a" stroke-width="0.5"/>
<path d="M291.9 537.9 L407.5 537.9" fill="none" stroke="#0a0a0a" stroke-width="1.4"/>
<path d="M288.2 596.1 L454.7 596.1" fill="none" stroke="#0a0a0a" stroke-width="1.4"/>
<path d="M296.9 537.9 L296.9 596.1" fill="none" stroke="#0a0a0a" stroke-width="1.4"/>
<path d="M310.8 555.8 L310.8 596.1" fill="none" stroke="#0a0a0a" stroke-width="1.4"/>
<path d="M454.7 555.8 L454.7 596.1" fill="none" stroke="#0a0a0a" stroke-width="1.4"/>
<path d="M310.8 555.8 L454.7 555.8" fill="none" stroke="#0a0a0a" stroke-width="1.4" stroke-dasharray="9 4"/>
<path d="M305.8 566 L451.9 566" fill="none" stroke="#0a0a0a" stroke-width="1.4"/>
<path d="M382.6 582.3 L454.7 582.3" fill="none" stroke="#0a0a0a" stroke-width="1.4" stroke-dasharray="2.2 2"/>
<path d="M330.4 530.9 L330.4 537.9" fill="none" stroke="#0a0a0a" stroke-width="1.4"/>
<path d="M393.6 589.1 L454.7 589.1" fill="none" stroke="#0a0a0a" stroke-width="1.4"/>
<path d="M310.8 555.8 C310.3 555 308.3 553 307.7 551.2 C307 549.3 306.4 547.2 306.7 544.7 C307 542.3 307.8 538.8 309.5 536.4 C311.2 534 314.1 531.5 316.9 530.3 C319.7 529.1 322.8 528.9 326.2 529 C329.5 529.1 333.6 529.9 337.2 530.9 C340.9 531.8 344.6 533.5 348.3 534.5 C352 535.6 353.7 536.6 359.4 537.3 C365.1 538 374.8 538.8 382.6 538.8 C390.3 538.8 400 538 405.7 537.3 C411.4 536.6 413.1 535.6 416.8 534.5 C420.5 533.5 424.2 531.8 427.9 530.9 C431.6 529.9 435.4 529 438.9 529 C442.5 529 446.2 529.5 449.1 530.9 C452 532.2 454.8 534.6 456.5 537 C458.2 539.3 459.1 542.3 459.3 544.7 C459.5 547.1 458.7 549.3 457.8 551.2 C456.9 553 454.7 555 454.1 555.8" fill="none" stroke="#0a0a0a" stroke-width="2.4"/>
<path d="M310.8 555.8 C310 556.7 306.9 559 305.8 561.4 C304.8 563.7 304.1 566.8 304.5 569.7 C305 572.6 306.2 576 308.6 578.9 C311 581.9 314.6 584.9 318.8 587.2 C322.9 589.6 327.4 591.4 333.6 592.8 C339.7 594.2 347.6 595.1 355.7 595.8 C363.9 596.4 373.6 596.5 382.6 596.5 C391.5 596.5 401.2 596.4 409.4 595.8 C417.5 595.1 425.4 594.2 431.6 592.8 C437.7 591.4 442.2 589.6 446.3 587.2 C450.5 584.9 454.1 581.9 456.5 578.9 C459 576 460.7 572.6 461.1 569.7 C461.6 566.8 460.5 563.7 459.3 561.4 C458.1 559 455 556.7 454.1 555.8" fill="none" stroke="#0a0a0a" stroke-width="2.4"/>
<path d="M328.4 557.7 C328.6 557.4 327.1 555.7 329.9 555.8 C332.6 556 335.9 557.5 344.6 558.6 C353.4 559.7 369.9 562.3 382.6 562.3 C395.2 562.3 411.7 559.7 420.5 558.6 C429.2 557.5 432.2 556 434.9 555.8 C437.5 555.7 436.1 557.4 436.4 557.7" fill="none" stroke="#0a0a0a" stroke-width="2.4"/>
<path d="M328.4 557.7 C328.8 558 327.4 558.6 330.8 559.9 C334.1 561.2 339.7 563.9 348.3 565.4 C357 567 371.1 569.1 382.6 569.1 C394 569.1 408.2 567 416.8 565.4 C425.3 563.9 430.7 561.2 434 559.9 C437.2 558.6 436 558 436.4 557.7" fill="none" stroke="#0a0a0a" stroke-width="2.4"/>
<path d="M331.3 559.9 L319.1 586.3 L340 576.5 L322.5 607.6 L353 585.4 L355.7 602 L367.2 590 L372.4 603.9 L382.6 595 L392.7 604.3 L397.3 590.9 L410.3 601.5 L412.1 585.4 L444.5 608.9 L426.4 579.9 L447.3 588.2 L433.4 559.9" fill="none" stroke="#0a0a0a" stroke-width="2.5" stroke-linejoin="miter"/>
<path d="M382.6 539.2 C383.3 540.1 386.4 542.4 386.8 544.7 C387.2 547 385.3 551.7 385 553" fill="none" stroke="#0a0a0a" stroke-width="0.9"/>
<path d="M392.7 566.9 C395.2 567.5 402.6 570.6 407.5 570.6 C412.4 570.6 418 566.9 422.3 566.9 C426.6 566.9 429.7 570.8 433.4 570.6 C437.1 570.5 441.4 566 444.5 566 C447.6 566 450.7 569.8 451.9 570.6" fill="none" stroke="#0a0a0a" stroke-width="0.9"/>
<path d="M387.2 589.1 C389.6 588.8 397.3 588.8 402 587.2 C406.6 585.7 411.5 582.3 414.9 579.9 C418.3 577.4 419.5 574.3 422.3 572.5 C425.1 570.6 430 569.4 431.6 568.8" fill="none" stroke="#0a0a0a" stroke-width="0.9"/>
<path d="M384.4 557.7 C384.7 559.5 386.2 565.1 386.2 568.8 C386.2 572.5 384.2 576.2 384.4 579.9 C384.6 583.6 386.7 589.1 387.2 590.9" fill="none" stroke="#0a0a0a" stroke-width="0.9" stroke-dasharray="3 2"/>
<path d="M413.1 598.3 C415.2 598.7 421.7 600.2 426 600.2 C430.3 600.2 434.2 598.5 438.9 598.3 C443.7 598.2 452 599.1 454.7 599.3" fill="none" stroke="#0a0a0a" stroke-width="0.9" stroke-dasharray="5 3"/>
<text x="242" y="579.9" font-family="'Liberation Serif', serif" font-size="26" fill="#0a0a0a" text-anchor="start" textLength="49" lengthAdjust="spacingAndGlyphs">h/10</text>
<path d="M773.1 52.9 L773.1 157.3" fill="none" stroke="#0a0a0a" stroke-width="1.4"/>
<path d="M1216.9 51.3 L1216.9 157" fill="none" stroke="#0a0a0a" stroke-width="1.4"/>
<path d="M773.1 79.1 L940.8 79.1" fill="none" stroke="#0a0a0a" stroke-width="1.4"/>
<path d="M1012.3 79.1 L1216.9 79.1" fill="none" stroke="#0a0a0a" stroke-width="1.4"/>
<path d="M977.8 67.8 L980.4 76 L989 76 L982.1 81 L984.7 89.1 L977.8 84.1 L970.9 89.1 L973.5 81 L966.6 76 L975.2 76Z" fill="none" stroke="#0a0a0a" stroke-width="0.9"/>
<path d="M773.1 108.5 L1216.9 108.5" fill="none" stroke="#0a0a0a" stroke-width="1.4"/>
<path d="M773.1 156.6 L1216.9 156.6" fill="none" stroke="#0a0a0a" stroke-width="1.4"/>
<path d="M817.1 108.5 L817.1 156.6" fill="none" stroke="#0a0a0a" stroke-width="1.9"/>
<path d="M773.1 107.9 Q795.3 86.7 817.5 107.9 M817.5 107.9 Q839.7 86.7 861.9 107.9 M861.9 107.9 Q884 86.7 906.2 107.9 M906.2 107.9 Q928.4 86.7 950.6 107.9 M950.6 107.9 Q972.8 86.7 995 107.9 M995 107.9 Q1017.2 86.7 1039.4 107.9 M1039.4 107.9 Q1061.6 86.7 1083.8 107.9 M1083.8 107.9 Q1106 86.7 1128.1 107.9 M1128.1 107.9 Q1150.3 86.7 1172.5 107.9 M1172.5 107.9 Q1194.7 86.7 1216.9 107.9 " fill="none" stroke="#0a0a0a" stroke-width="1.4" stroke-dasharray="2.4 2"/>
<path d="M841.3 108.5 C842.7 109 847.2 109.8 849.8 111.4 C852.3 113 854.8 115.5 856.6 118.2 C858.4 120.9 859.4 124.4 860.4 127.4 C861.4 130.5 862.1 133.5 862.7 136.5 C863.3 139.5 863.7 143.8 863.9 145.3 M863.9 145.3 C864.7 144.8 866.7 143 868.8 142.2 C870.9 141.4 873.9 140.5 876.4 140.3 C878.9 140.1 881.4 140.2 884 141 C886.6 141.8 890.5 144.2 891.8 144.8 M891.8 144.8 C890.3 143.8 885.5 140.6 882.8 138.8 C880.1 137 877.6 135.8 875.8 133.9 C874 132 872.6 130 871.9 127.5 C871.2 125 870.6 121.6 871.4 119 C872.1 116.4 874 113.7 876.4 111.9 C878.8 110.2 884.1 109.1 885.7 108.5 M885.7 108.5 C887.1 109 891.6 109.8 894.2 111.4 C896.7 113 899.2 115.5 901 118.2 C902.7 120.9 903.8 124.4 904.8 127.4 C905.8 130.5 906.5 133.5 907.1 136.5 C907.7 139.5 908.1 143.8 908.3 145.3 M908.3 145.3 C909.1 144.8 911.1 143 913.2 142.2 C915.3 141.4 918.2 140.5 920.8 140.3 C923.3 140.1 925.8 140.2 928.4 141 C930.9 141.8 934.9 144.2 936.2 144.8 M936.2 144.8 C934.7 143.8 929.8 140.6 927.2 138.8 C924.5 137 922 135.8 920.2 133.9 C918.4 132 917 130 916.3 127.5 C915.5 125 915 121.6 915.8 119 C916.5 116.4 918.4 113.7 920.8 111.9 C923.2 110.2 928.5 109.1 930.1 108.5 M930.1 108.5 C931.5 109 936 109.8 938.6 111.4 C941.1 113 943.6 115.5 945.4 118.2 C947.1 120.9 948.1 124.4 949.2 127.4 C950.2 130.5 950.9 133.5 951.5 136.5 C952 139.5 952.5 143.8 952.7 145.3 M952.7 145.3 C953.5 144.8 955.5 143 957.6 142.2 C959.6 141.4 962.6 140.5 965.2 140.3 C967.7 140.1 970.2 140.2 972.8 141 C975.3 141.8 979.3 144.2 980.6 144.8 M980.6 144.8 C979.1 143.8 974.2 140.6 971.6 138.8 C968.9 137 966.4 135.8 964.6 133.9 C962.7 132 961.4 130 960.7 127.5 C959.9 125 959.4 121.6 960.2 119 C960.9 116.4 962.8 113.7 965.2 111.9 C967.5 110.2 972.9 109.1 974.5 108.5 M974.4 108.5 C975.9 109 980.4 109.8 982.9 111.4 C985.5 113 988 115.5 989.7 118.2 C991.5 120.9 992.5 124.4 993.5 127.4 C994.6 130.5 995.3 133.5 995.8 136.5 C996.4 139.5 996.8 143.8 997 145.3 M997 145.3 C997.9 144.8 999.9 143 1001.9 142.2 C1004 141.4 1007 140.5 1009.5 140.3 C1012.1 140.1 1014.6 140.2 1017.1 141 C1019.7 141.8 1023.6 144.2 1024.9 144.8 M1024.9 144.8 C1023.4 143.8 1018.6 140.6 1015.9 138.8 C1013.3 137 1010.8 135.8 1008.9 133.9 C1007.1 132 1005.8 130 1005 127.5 C1004.3 125 1003.8 121.6 1004.5 119 C1005.3 116.4 1007.2 113.7 1009.5 111.9 C1011.9 110.2 1017.3 109.1 1018.8 108.5 M1018.8 108.5 C1020.2 109 1024.8 109.8 1027.3 111.4 C1029.9 113 1032.4 115.5 1034.1 118.2 C1035.9 120.9 1036.9 124.4 1037.9 127.4 C1038.9 130.5 1039.6 133.5 1040.2 136.5 C1040.8 139.5 1041.2 143.8 1041.4 145.3 M1041.4 145.3 C1042.2 144.8 1044.2 143 1046.3 142.2 C1048.4 141.4 1051.4 140.5 1053.9 140.3 C1056.5 140.1 1059 140.2 1061.5 141 C1064.1 141.8 1068 144.2 1069.3 144.8 M1069.3 144.8 C1067.8 143.8 1063 140.6 1060.3 138.8 C1057.7 137 1055.1 135.8 1053.3 133.9 C1051.5 132 1050.2 130 1049.4 127.5 C1048.7 125 1048.2 121.6 1048.9 119 C1049.7 116.4 1051.5 113.7 1053.9 111.9 C1056.3 110.2 1061.7 109.1 1063.2 108.5 M1063.2 108.5 C1064.6 109 1069.2 109.8 1071.7 111.4 C1074.2 113 1076.7 115.5 1078.5 118.2 C1080.3 120.9 1081.3 124.4 1082.3 127.4 C1083.3 130.5 1084 133.5 1084.6 136.5 C1085.2 139.5 1085.6 143.8 1085.8 145.3 M1085.8 145.3 C1086.6 144.8 1088.6 143 1090.7 142.2 C1092.8 141.4 1095.8 140.5 1098.3 140.3 C1100.8 140.1 1103.3 140.2 1105.9 141 C1108.5 141.8 1112.4 144.2 1113.7 144.8 M1113.7 144.8 C1112.2 143.8 1107.4 140.6 1104.7 138.8 C1102 137 1099.5 135.8 1097.7 133.9 C1095.9 132 1094.5 130 1093.8 127.5 C1093.1 125 1092.5 121.6 1093.3 119 C1094 116.4 1095.9 113.7 1098.3 111.9 C1100.7 110.2 1106.1 109.1 1107.6 108.5 M1107.6 108.5 C1109 109 1113.5 109.8 1116.1 111.4 C1118.6 113 1121.1 115.5 1122.9 118.2 C1124.6 120.9 1125.7 124.4 1126.7 127.4 C1127.7 130.5 1128.4 133.5 1129 136.5 C1129.6 139.5 1130 143.8 1130.2 145.3 M1130.2 145.3 C1131 144.8 1133 143 1135.1 142.2 C1137.2 141.4 1140.1 140.5 1142.7 140.3 C1145.2 140.1 1147.7 140.2 1150.3 141 C1152.8 141.8 1156.8 144.2 1158.1 144.8 M1158.1 144.8 C1156.6 143.8 1151.7 140.6 1149.1 138.8 C1146.4 137 1143.9 135.8 1142.1 133.9 C1140.3 132 1138.9 130 1138.2 127.5 C1137.4 125 1136.9 121.6 1137.7 119 C1138.4 116.4 1140.3 113.7 1142.7 111.9 C1145.1 110.2 1150.4 109.1 1152 108.5 M1152 108.5 C1153.4 109 1157.9 109.8 1160.5 111.4 C1163 113 1165.5 115.5 1167.3 118.2 C1169 120.9 1170 124.4 1171.1 127.4 C1172.1 130.5 1172.8 133.5 1173.4 136.5 C1173.9 139.5 1174.4 143.8 1174.6 145.3 " fill="none" stroke="#0a0a0a" stroke-width="2.4" stroke-linejoin="round" stroke-linecap="round"/>
<path d="M796.4 108.5 C794.9 109.2 789.8 110.2 787.5 112.4 C785.1 114.5 783.1 118.2 782.5 121.3 C782 124.5 782.5 128.6 784.1 131.4 C785.7 134.2 788.9 135.9 791.9 138.2 C794.9 140.4 800.4 143.8 802 144.9" fill="none" stroke="#0a0a0a" stroke-width="2.4"/>
<path d="M796.4 108.5 C798.1 109.2 803.7 110 806.5 112.4 C809.3 114.7 811.7 118.7 813.3 122.5 C814.9 126.2 815.6 131.1 816.2 134.8 C816.8 138.5 816.9 143.2 817.1 144.9" fill="none" stroke="#0a0a0a" stroke-width="2.4"/>
<path d="M800.9 144.9 L846.9 144.9" fill="none" stroke="#0a0a0a" stroke-width="2.4"/>
<path d="M817.1 144.9 C818.5 144.3 822.3 142.2 825.6 141.5 C828.9 140.9 833.3 140.6 836.8 141.1 C840.4 141.5 845.3 143.7 846.9 144.2" fill="none" stroke="#0a0a0a" stroke-width="2.4"/>
<path d="M802 144.9 C800.4 144.3 795.3 141.6 791.9 141.1 C788.6 140.6 784.6 140.8 781.8 142 C779 143.2 776.6 145.7 775.1 148.3 C773.6 150.8 773.4 155.8 773.1 157.3" fill="none" stroke="#0a0a0a" stroke-width="2.4"/>
<path d="M847.4 144.8 C845.9 143.8 841.1 140.6 838.4 138.8 C835.8 137 833.2 135.8 831.4 133.9 C829.6 132 828.3 130 827.5 127.5 C826.8 125 826.3 121.6 827 119 C827.8 116.4 829.6 113.7 832 111.9 C834.4 110.2 839.8 109.1 841.3 108.5" fill="none" stroke="#0a0a0a" stroke-width="2.4" stroke-linejoin="round" stroke-linecap="round"/>
<path d="M773.1 157.3 C773.3 158.8 773.2 163.7 774.4 166.2 C775.6 168.8 777.5 171.1 780.3 172.5 C783 173.9 787.2 175 790.8 174.5 C794.4 174.1 800.2 170.4 802 169.6" fill="none" stroke="#0a0a0a" stroke-width="2.4"/>
<path d="M802.2 169.6 C801.2 170.5 798.2 173.8 796.1 175.2 C794.1 176.6 791.9 177 790 178.3 C788.1 179.6 786.1 181 784.7 182.8 C783.4 184.6 782.4 186.7 781.9 188.9 C781.5 191 781.5 193.5 782.1 195.7 C782.7 197.8 783.9 200.1 785.4 201.8 C787 203.5 789.2 205 791.5 205.9 C793.8 206.8 796.6 207.5 799.1 207.3 C801.7 207.1 804.4 206.3 806.7 204.9 C809 203.5 811.2 201.3 812.8 198.8 C814.5 196.3 815.7 193 816.6 189.7 C817.6 186.4 818 182.3 818.4 179 C818.8 175.7 818.8 171.4 818.9 169.9 M818.9 169.9 C819.7 170.3 821.7 171.8 823.8 172.6 C825.9 173.4 828.9 174.3 831.4 174.5 C833.9 174.7 836.5 174.5 839 173.7 C841.5 172.9 845.3 170.3 846.6 169.6 M846.6 169.6 C845.6 170.5 842.5 173.8 840.5 175.2 C838.5 176.6 836.3 177 834.4 178.3 C832.5 179.6 830.5 181 829.1 182.8 C827.8 184.6 826.7 186.7 826.3 188.9 C825.9 191 825.9 193.5 826.5 195.7 C827.1 197.8 828.2 200.1 829.8 201.8 C831.4 203.5 833.6 205 835.9 205.9 C838.2 206.8 841 207.5 843.5 207.3 C846 207.1 848.8 206.3 851.1 204.9 C853.4 203.5 855.5 201.3 857.2 198.8 C858.8 196.3 860.1 193 861 189.7 C861.9 186.4 862.4 182.3 862.8 179 C863.2 175.7 863.2 171.4 863.3 169.9 M863.3 169.9 C864.1 170.3 866.1 171.8 868.2 172.6 C870.3 173.4 873.2 174.3 875.8 174.5 C878.3 174.7 880.8 174.5 883.4 173.7 C885.9 172.9 889.7 170.3 891 169.6 M891 169.6 C890 170.5 886.9 173.8 884.9 175.2 C882.8 176.6 880.7 177 878.8 178.3 C876.9 179.6 874.8 181 873.5 182.8 C872.1 184.6 871.1 186.7 870.7 188.9 C870.2 191 870.3 193.5 870.9 195.7 C871.5 197.8 872.6 200.1 874.2 201.8 C875.7 203.5 878 205 880.3 205.9 C882.6 206.8 885.3 207.5 887.9 207.3 C890.4 207.1 893.2 206.3 895.5 204.9 C897.8 203.5 899.9 201.3 901.6 198.8 C903.2 196.3 904.4 193 905.4 189.7 C906.3 186.4 906.8 182.3 907.2 179 C907.6 175.7 907.6 171.4 907.7 169.9 M907.7 169.9 C908.5 170.3 910.5 171.8 912.6 172.6 C914.6 173.4 917.6 174.3 920.2 174.5 C922.7 174.7 925.2 174.5 927.8 173.7 C930.3 172.9 934.1 170.3 935.4 169.6 M935.4 169.6 C934.3 170.5 931.3 173.8 929.3 175.2 C927.2 176.6 925.1 177 923.2 178.3 C921.3 179.6 919.2 181 917.9 182.8 C916.5 184.6 915.5 186.7 915.1 188.9 C914.6 191 914.7 193.5 915.3 195.7 C915.8 197.8 917 200.1 918.6 201.8 C920.1 203.5 922.4 205 924.7 205.9 C926.9 206.8 929.7 207.5 932.3 207.3 C934.8 207.1 937.6 206.3 939.9 204.9 C942.1 203.5 944.3 201.3 946 198.8 C947.6 196.3 948.8 193 949.8 189.7 C950.7 186.4 951.2 182.3 951.6 179 C951.9 175.7 952 171.4 952.1 169.9 M952 169.9 C952.9 170.3 954.9 171.8 956.9 172.6 C959 173.4 962 174.3 964.5 174.5 C967.1 174.7 969.6 174.5 972.1 173.7 C974.7 172.9 978.5 170.3 979.7 169.6 M979.7 169.6 C978.7 170.5 975.7 173.8 973.6 175.2 C971.6 176.6 969.4 177 967.5 178.3 C965.6 179.6 963.6 181 962.2 182.8 C960.9 184.6 959.9 186.7 959.4 188.9 C959 191 959.1 193.5 959.6 195.7 C960.2 197.8 961.4 200.1 962.9 201.8 C964.5 203.5 966.8 205 969 205.9 C971.3 206.8 974.1 207.5 976.6 207.3 C979.2 207.1 982 206.3 984.2 204.9 C986.5 203.5 988.7 201.3 990.3 198.8 C992 196.3 993.2 193 994.1 189.7 C995.1 186.4 995.6 182.3 995.9 179 C996.3 175.7 996.4 171.4 996.4 169.9 M996.4 169.9 C997.2 170.3 999.2 171.8 1001.3 172.6 C1003.4 173.4 1006.4 174.3 1008.9 174.5 C1011.5 174.7 1014 174.5 1016.5 173.7 C1019.1 172.9 1022.9 170.3 1024.1 169.6 M1024.1 169.6 C1023.1 170.5 1020.1 173.8 1018 175.2 C1016 176.6 1013.8 177 1011.9 178.3 C1010 179.6 1008 181 1006.6 182.8 C1005.3 184.6 1004.3 186.7 1003.8 188.9 C1003.4 191 1003.4 193.5 1004 195.7 C1004.6 197.8 1005.8 200.1 1007.3 201.8 C1008.9 203.5 1011.1 205 1013.4 205.9 C1015.7 206.8 1018.5 207.5 1021 207.3 C1023.6 207.1 1026.3 206.3 1028.6 204.9 C1030.9 203.5 1033.1 201.3 1034.7 198.8 C1036.4 196.3 1037.6 193 1038.5 189.7 C1039.5 186.4 1039.9 182.3 1040.3 179 C1040.7 175.7 1040.7 171.4 1040.8 169.9 M1040.8 169.9 C1041.6 170.3 1043.6 171.8 1045.7 172.6 C1047.8 173.4 1050.8 174.3 1053.3 174.5 C1055.8 174.7 1058.4 174.5 1060.9 173.7 C1063.4 172.9 1067.2 170.3 1068.5 169.6 M1068.5 169.6 C1067.5 170.5 1064.4 173.8 1062.4 175.2 C1060.4 176.6 1058.2 177 1056.3 178.3 C1054.4 179.6 1052.3 181 1051 182.8 C1049.7 184.6 1048.6 186.7 1048.2 188.9 C1047.8 191 1047.8 193.5 1048.4 195.7 C1049 197.8 1050.1 200.1 1051.7 201.8 C1053.3 203.5 1055.5 205 1057.8 205.9 C1060.1 206.8 1062.9 207.5 1065.4 207.3 C1067.9 207.1 1070.7 206.3 1073 204.9 C1075.3 203.5 1077.4 201.3 1079.1 198.8 C1080.8 196.3 1082 193 1082.9 189.7 C1083.8 186.4 1084.3 182.3 1084.7 179 C1085.1 175.7 1085.1 171.4 1085.2 169.9 M1085.2 169.9 C1086 170.3 1088 171.8 1090.1 172.6 C1092.2 173.4 1095.1 174.3 1097.7 174.5 C1100.2 174.7 1102.7 174.5 1105.3 173.7 C1107.8 172.9 1111.6 170.3 1112.9 169.6 M1112.9 169.6 C1111.9 170.5 1108.8 173.8 1106.8 175.2 C1104.7 176.6 1102.6 177 1100.7 178.3 C1098.8 179.6 1096.7 181 1095.4 182.8 C1094 184.6 1093 186.7 1092.6 188.9 C1092.1 191 1092.2 193.5 1092.8 195.7 C1093.4 197.8 1094.5 200.1 1096.1 201.8 C1097.6 203.5 1099.9 205 1102.2 205.9 C1104.5 206.8 1107.2 207.5 1109.8 207.3 C1112.3 207.1 1115.1 206.3 1117.4 204.9 C1119.7 203.5 1121.8 201.3 1123.5 198.8 C1125.1 196.3 1126.3 193 1127.3 189.7 C1128.2 186.4 1128.7 182.3 1129.1 179 C1129.5 175.7 1129.5 171.4 1129.6 169.9 M1129.6 169.9 C1130.4 170.3 1132.4 171.8 1134.5 172.6 C1136.5 173.4 1139.5 174.3 1142.1 174.5 C1144.6 174.7 1147.1 174.5 1149.7 173.7 C1152.2 172.9 1156 170.3 1157.3 169.6 M1157.3 169.6 C1156.2 170.5 1153.2 173.8 1151.2 175.2 C1149.1 176.6 1147 177 1145.1 178.3 C1143.2 179.6 1141.1 181 1139.8 182.8 C1138.4 184.6 1137.4 186.7 1137 188.9 C1136.5 191 1136.6 193.5 1137.2 195.7 C1137.7 197.8 1138.9 200.1 1140.5 201.8 C1142 203.5 1144.3 205 1146.6 205.9 C1148.8 206.8 1151.6 207.5 1154.2 207.3 C1156.7 207.1 1159.5 206.3 1161.8 204.9 C1164 203.5 1166.2 201.3 1167.9 198.8 C1169.5 196.3 1170.7 193 1171.7 189.7 C1172.6 186.4 1173.1 182.3 1173.5 179 C1173.8 175.7 1173.9 171.4 1174 169.9 M1173.9 169.9 C1174.8 170.3 1176.8 171.8 1178.8 172.6 C1180.9 173.4 1183.9 174.3 1186.4 174.5 C1189 174.7 1191.5 174.5 1194 173.7 C1196.6 172.9 1200.4 170.3 1201.6 169.6 M1201.6 169.6 C1200.6 170.5 1197.6 173.8 1195.5 175.2 C1193.5 176.6 1191.3 177 1189.4 178.3 C1187.5 179.6 1185.5 181 1184.1 182.8 C1182.8 184.6 1181.8 186.7 1181.3 188.9 C1180.9 191 1181 193.5 1181.5 195.7 C1182.1 197.8 1183.3 200.1 1184.8 201.8 C1186.4 203.5 1188.7 205 1190.9 205.9 C1193.2 206.8 1195.7 207.7 1198.5 207.3 C1201.4 206.9 1205.3 205.9 1208 203.5 C1210.7 201.1 1213.5 196.9 1215 193 C1216.5 189.1 1216.8 191.8 1217.2 180 C1217.6 168.2 1217.2 131.7 1217.2 122 " fill="none" stroke="#0a0a0a" stroke-width="2.4" stroke-linejoin="round" stroke-linecap="round"/>
<path d="M1172.4 108.5 L1172.4 143.8" fill="none" stroke="#0a0a0a" stroke-width="1.7"/>
<path d="M1172.4 143.8 L1172.4 156.6" fill="none" stroke="#0a0a0a" stroke-width="1.4" stroke-dasharray="2.5 2"/>
<path d="M1195.3 108.5 C1193.8 109.4 1188.5 111 1186.3 113.5 C1184.2 116 1182.5 120.2 1182.3 123.6 C1182.1 126.9 1183.4 131.1 1185.2 133.7 C1187 136.3 1190.3 137.9 1193.1 139.3 C1195.9 140.7 1200.6 141.5 1202.1 142" fill="none" stroke="#0a0a0a" stroke-width="2.4"/>
<path d="M1195.3 108.5 C1197 109 1202.4 109.5 1205.4 111.2 C1208.4 113 1211.4 115.9 1213.3 119.1 C1215.2 122.3 1216.3 128.4 1216.9 130.3" fill="none" stroke="#0a0a0a" stroke-width="2.4"/>
<path d="M1183 124 L1216.9 124" fill="none" stroke="#0a0a0a" stroke-width="1.4"/>
<path d="M1172.4 138.8 L1216.9 138.8" fill="none" stroke="#0a0a0a" stroke-width="1.4" stroke-dasharray="2.5 2"/>
<path d="M1207.7 138.8 L1207.7 156.6" fill="none" stroke="#0a0a0a" stroke-width="1.4" stroke-dasharray="2.5 2"/>
<path d="M1212.2 138.8 L1212.2 156.6" fill="none" stroke="#0a0a0a" stroke-width="1.4" stroke-dasharray="2.5 2"/>
<path d="M1214.4 110.1 L1212.2 138.8" fill="none" stroke="#0a0a0a" stroke-width="1.4" stroke-dasharray="2.5 2"/>
<path d="M1177.4 143.8 L1190.4 156.6 L1199.4 147.2" fill="none" stroke="#0a0a0a" stroke-width="1.4"/>
<path d="M1190.4 140.4 L1190.4 156.6" fill="none" stroke="#0a0a0a" stroke-width="1.4"/>
<path d="M1199.4 143.8 L1199.4 156.6" fill="none" stroke="#0a0a0a" stroke-width="1.4"/>
<path d="M1176.2 144.2 C1178.3 143.6 1184.6 140.5 1188.6 140.4 C1192.6 140.3 1198.3 143.2 1200.3 143.8" fill="none" stroke="#0a0a0a" stroke-width="1.7"/>
<path d="M1172.4 108.5 C1173.6 107.8 1176.5 104.8 1179.6 103.8 C1182.7 102.9 1187.8 102.3 1190.8 102.9 C1193.8 103.5 1196.5 106.7 1197.6 107.4" fill="none" stroke="#0a0a0a" stroke-width="1.4" stroke-dasharray="2.4 2"/>
<path d="M1197.6 107.4 C1199.1 106.7 1203.3 102.7 1206.6 102.9 C1209.8 103.1 1215.2 107.6 1216.9 108.5" fill="none" stroke="#0a0a0a" stroke-width="1.4" stroke-dasharray="2.4 2"/>
<path d="M520.1 368.5 L1136.1 368.5" fill="none" stroke="#0a0a0a" stroke-width="1.4"/>
<path d="M520.1 368.5 L520.1 709.4" fill="none" stroke="#0a0a0a" stroke-width="1.4"/>
<path d="M520.1 639.3 L1232 639.3" fill="none" stroke="#0a0a0a" stroke-width="1.4"/>
<path d="M722.3 190.6 L722.3 368.5" fill="none" stroke="#0a0a0a" stroke-width="1.4"/>
<path d="M520.1 368.5 L722.3 190.6" fill="none" stroke="#0a0a0a" stroke-width="1.4"/>
<path d="M660.7 505.1 L1047.3 505.1" fill="none" stroke="#0a0a0a" stroke-width="1.4"/>
<path d="M660.7 505.1 L660.7 639.3" fill="none" stroke="#0a0a0a" stroke-width="1.4"/>
<path d="M783.5 613.2 L1100.5 613.2" fill="none" stroke="#0a0a0a" stroke-width="1.4"/>
<path d="M854.5 368.5 L854.5 421.2" fill="none" stroke="#0a0a0a" stroke-width="1.4"/>
<path d="M854.5 451.6 L854.5 505.1" fill="none" stroke="#0a0a0a" stroke-width="1.4"/>
<path d="M872.1 297.4 L872.1 505.1" fill="none" stroke="#0a0a0a" stroke-width="1.7"/>
<path d="M1047.5 505.1 L1047.5 639.3" fill="none" stroke="#0a0a0a" stroke-width="1.4"/>
<path d="M1136.1 368.5 L1136.1 491" fill="none" stroke="#0a0a0a" stroke-width="1.4"/>
<path d="M1136.1 530.5 L1136.1 639.3" fill="none" stroke="#0a0a0a" stroke-width="1.4"/>
<circle cx="1136.1" cy="510.8" r="9.6" fill="none" stroke="#0a0a0a" stroke-width="1"/>
<path d="M855.3 428.4 L867.8 449.1 L844.3 449.1Z" fill="#0a0a0a" stroke="#0a0a0a" stroke-width="0.5"/>
<path d="M872.1 401.6 L942.7 401.6" fill="none" stroke="#0a0a0a" stroke-width="1.4"/>
<path d="M1029.8 401.6 L1099.7 401.6" fill="none" stroke="#0a0a0a" stroke-width="1.4"/>
<path d="M1099.7 392.7 L1099.7 421.2" fill="none" stroke="#0a0a0a" stroke-width="1.4"/>
<path d="M972 392 L991.6 392 L991.6 411.6 L972 411.6Z" fill="none" stroke="#0a0a0a" stroke-width="0.9"/>
<path d="M1107.9 613.5 L1119.5 632.5 L1096.5 632.5Z" fill="none" stroke="#0a0a0a" stroke-width="0.9"/>
<path d="M614.5 598.8 L614.5 621.3 L633 609.9Z" fill="none" stroke="#0a0a0a" stroke-width="0.9"/>
<path d="M520.1 368.5 C520.1 365.7 520 357.7 520.3 351.8 C520.7 346 520.8 341.2 522.2 333.3 C523.6 325.4 525.9 314.4 528.8 304.2 C531.7 294.1 534.5 284.4 539.4 272.5 C544.2 260.6 552.4 243.4 557.9 232.9 C563.4 222.3 567.5 216 572.4 209.1 C577.3 202.1 585 194.1 587.5 191.1" fill="none" stroke="#0a0a0a" stroke-width="1.7"/>
<path d="M587.5 191.1 C591.4 193.4 603.3 199.5 610.7 205.1 C618.1 210.8 625.7 218.1 631.9 224.9 C638.1 231.8 644 239.9 647.7 246.1 C651.5 252.3 653.3 259.3 654.4 261.9" fill="none" stroke="#0a0a0a" stroke-width="1.4"/>
<path d="M654.4 260.6 C655.5 258.2 658.5 250.3 661 246.1 C663.4 241.9 664 241 668.9 235.5 C673.7 230 683 219.4 690 213 C697.1 206.7 705.8 200.9 711.2 197.2 C716.6 193.4 720.4 191.7 722.3 190.6" fill="none" stroke="#0a0a0a" stroke-width="1.4"/>
<path d="M650.4 249.3 L654.4 260.6" fill="none" stroke="#0a0a0a" stroke-width="1.4"/>
<path d="M722.5 190.6 C723.6 194.1 725.4 203.8 729.1 211.7 C732.8 219.6 738.3 229.8 744.9 238.2 C751.5 246.6 760.8 255.1 768.7 261.9 C776.6 268.7 784.1 274.5 792.5 279.1 C800.9 283.7 810.2 287 819 289.7 C827.8 292.4 836.5 294.2 845.4 295.5 C854.2 296.8 861.1 298.1 872.1 297.4 C883.1 296.6 898.9 293.9 911.4 291 C923.9 288.1 935.1 283.6 947 280.3 C958.9 277 972 273.3 982.7 271.4 C993.4 269.4 1001.7 268.3 1011.2 268.6 C1020.7 268.9 1030.3 269.8 1039.8 273.2 C1049.3 276.6 1060 281.8 1068.3 289.2 C1076.6 296.6 1084.5 307.7 1089.7 317.8 C1094.9 327.9 1097.8 341 1099.7 349.9 C1101.6 358.8 1101.4 363.6 1101.2 371.3 C1101 379 1100.6 388 1098.7 396.3 C1096.8 404.6 1094.2 411.1 1089.7 421.2 C1085.2 431.3 1077.8 445.6 1071.9 456.9 C1066 468.2 1058.1 481 1054.1 489 C1050 497 1050 498.7 1047.6 505.1 C1045.2 511.5 1041.7 519.5 1039.7 527.6 C1037.7 535.8 1036.8 544.3 1035.7 554 C1034.6 563.7 1034 576 1033.1 585.7 C1032.2 595.4 1031 605.9 1030.5 612.1 C1030 618.3 1030.8 619 1029.9 622.7 C1029 626.5 1028 632 1025.2 634.6 C1022.4 637.2 1017.5 638.2 1013.3 638.6 C1009.1 639 1004.1 638.4 1000.1 637.2 C996.1 636 990.9 632.2 989 631.2" fill="none" stroke="#0a0a0a" stroke-width="1.7"/>
<path d="M989 631.2 C987.3 632.3 982.3 636.3 978.9 637.8 C975.5 639.2 971.9 640 968.4 639.9 C964.9 639.8 961.1 638.7 957.8 637.2 C954.5 635.8 950 632.2 948.5 631.2" fill="none" stroke="#0a0a0a" stroke-width="2.6"/>
<path d="M948.5 631.2 C947 632.2 942.6 635.8 939.3 637.2 C936 638.6 932.7 639.4 928.7 639.4 C924.7 639.4 919.7 639.1 915.5 637.2 C911.3 635.3 906.3 632 903.6 628 C900.9 624 899.9 618.4 899.1 613.5 C898.4 608.6 898.6 604.4 899.1 598.9 C899.6 593.4 901.4 587.9 902.3 580.4 C903.2 572.9 904.8 561.9 904.4 554 C904 546.1 902.6 539.5 899.6 532.9 C896.6 526.3 891 519 886.4 514.4 C881.8 509.8 877.4 506.8 871.9 505.1 C866.4 503.4 860.5 503.2 853.5 504.3 C846.5 505.4 837.2 507.4 829.7 511.7 C822.2 516 814.3 523.2 808.6 530.2 C802.9 537.2 798.5 545.5 795.4 553.9 C792.3 562.2 791.9 571.5 790.1 580.3 C788.3 589.1 787 599.4 784.8 606.7 C782.6 614 778.2 621 776.9 623.9" fill="none" stroke="#0a0a0a" stroke-width="1.7"/>
<path d="M920.3 613.2 L920.3 639.3" fill="none" stroke="#0a0a0a" stroke-width="1.4"/>
<path d="M964.4 613.2 L964.4 639.3" fill="none" stroke="#0a0a0a" stroke-width="1.4"/>
<path d="M520 368.6 C520.2 371 520.3 377.9 521 383 C521.7 388.1 522.8 393.7 524.4 398.9 C526 404.1 528 409.1 530.5 414 C533 418.9 533.6 421.3 539.1 428.2 C544.6 435.1 553.8 446.5 563.6 455.1 C573.4 463.7 586.4 472.7 597.8 479.6 C609.2 486.5 621.4 492.4 632 496.7 C642.6 501 656.5 504 661.4 505.5" fill="none" stroke="#0a0a0a" stroke-width="1.7"/>
<path d="M660.7 505.1 C660.5 509.7 660.5 522.9 659.4 532.8 C658.3 542.7 655.4 558.3 654.1 564.5 C652.8 570.7 653.3 564.3 651.4 570 C649.5 575.7 644.1 594.1 642.6 598.9" fill="none" stroke="#0a0a0a" stroke-width="1.4"/>
<path d="M587.5 191.1 L561.3 227.6" fill="none" stroke="#0a0a0a" stroke-width="2.6"/>
<path d="M587.6 190.5 L605.1 203.9 Q608.4 207 605.3 211 Q602.1 215.1 598.9 212.7 L587.5 204 L583.6 209.6 L597.8 220.5 Q600.8 223.2 597.8 227.2 Q594.6 231.4 591.7 229.2 L577.4 218.3 L573.5 224 L590.2 236.7 Q593.3 239.5 590.3 243.6 Q587 247.9 584 245.6 L561.1 228.1 " fill="none" stroke="#0a0a0a" stroke-width="2.6" stroke-linejoin="round"/>
<path d="M587.6 190.5 C587.9 193 590.2 200.2 589.7 205.5 C589.1 210.8 586.2 218 584.3 222.5 C582.3 227.1 579 231 578 232.7" fill="none" stroke="#0a0a0a" stroke-width="1.4"/>
<path d="M553.9 243.4 C554.6 247 558.5 257.5 557.9 264.6 C557.2 271.6 554.8 279.3 549.9 285.7 C545.1 292.1 532.3 300.1 528.8 302.9" fill="none" stroke="#0a0a0a" stroke-width="1.4" stroke-dasharray="13 6"/>
<path d="M553.9 243.4 C555.7 243.2 561.4 243.2 564.5 242.1 C567.6 241 571.1 237.7 572.4 236.8" fill="none" stroke="#0a0a0a" stroke-width="1.4"/>
<path d="M531.4 310.8 C533 314.2 539.6 323.8 540.7 330.7 C541.8 337.5 541.3 345.5 538 351.8 C534.7 358.1 523.7 365.7 520.9 368.5" fill="none" stroke="#0a0a0a" stroke-width="1.4" stroke-dasharray="13 6"/>
<path d="M520.1 368.5 C522.4 368.7 529.5 369.9 534.1 369.8 C538.6 369.7 545.1 368 547.3 367.7" fill="none" stroke="#0a0a0a" stroke-width="1.4"/>
<path d="M547.3 367.7 C551.3 365.5 564.7 360.2 571.1 354.5 C577.5 348.7 582.9 340.6 585.6 333.3 C588.4 326 587.2 314.6 587.5 310.8" fill="none" stroke="#0a0a0a" stroke-width="1.4" stroke-dasharray="13 6"/>
<path d="M587.5 309.5 C592.7 309.5 609.5 312.6 618.7 309.5 C627.8 306.4 636.5 299 642.5 291 C648.4 283.1 652.4 266.8 654.4 261.9" fill="none" stroke="#0a0a0a" stroke-width="1.4" stroke-dasharray="13 6"/>
<path d="M657 250.1 C661.6 250.1 675.7 252.9 684.8 250.1 C693.8 247.2 705.4 239.3 711.2 232.9 C717 226.5 718.2 215.2 719.6 211.7" fill="none" stroke="#0a0a0a" stroke-width="1.4" stroke-dasharray="13 6"/>
<circle cx="532.8" cy="282.6" r="10" fill="#0a0a0a"/>
<path d="M585.6 329.1 L588.2 337.3 L596.8 337.3 L589.9 342.3 L592.5 350.4 L585.6 345.4 L578.7 350.4 L581.3 342.3 L574.4 337.3 L583 337.3Z" fill="#0a0a0a" stroke="#0a0a0a" stroke-width="0.5"/>
<path d="M803.6 270.9 L806.2 278.8 L814.5 278.8 L807.8 283.8 L810.4 291.7 L803.6 286.8 L796.8 291.7 L799.4 283.8 L792.7 278.8 L801 278.8Z" fill="none" stroke="#0a0a0a" stroke-width="0.9"/>
<path d="M872.1 297.4 Q889.1 314.7 872.1 332" fill="none" stroke="#0a0a0a" stroke-width="1.4" stroke-dasharray="14 7"/>
<path d="M872.1 332 Q889.1 349.3 872.1 366.6" fill="none" stroke="#0a0a0a" stroke-width="1.4" stroke-dasharray="14 7"/>
<path d="M872.1 366.6 Q889.1 383.9 872.1 401.2" fill="none" stroke="#0a0a0a" stroke-width="1.4" stroke-dasharray="14 7"/>
<path d="M872.1 401.2 Q889.1 418.6 872.1 435.9" fill="none" stroke="#0a0a0a" stroke-width="1.4" stroke-dasharray="14 7"/>
<path d="M872.1 435.9 Q889.1 453.2 872.1 470.5" fill="none" stroke="#0a0a0a" stroke-width="1.4" stroke-dasharray="14 7"/>
<path d="M872.1 470.5 Q889.1 487.8 872.1 505.1" fill="none" stroke="#0a0a0a" stroke-width="1.4" stroke-dasharray="14 7"/>
<path d="M634.1 597.9 L778.2 624.8" fill="none" stroke="#0a0a0a" stroke-width="1.4"/>
<path d="M629.2 624 L773.2 651.3" fill="none" stroke="#0a0a0a" stroke-width="1.4"/>
<path d="M640.8 617.1 L773.8 641.5" fill="none" stroke="#0a0a0a" stroke-width="1.4"/>
<path d="M637.9 600.1 L633.6 624.2" fill="none" stroke="#0a0a0a" stroke-width="1.4"/>
<path d="M641.4 600.1 L637.9 624.6" fill="none" stroke="#0a0a0a" stroke-width="1.4"/>
<path d="M778.2 624.8 L773.2 651.3" fill="none" stroke="#0a0a0a" stroke-width="1.4"/>
<path d="M665.2 604.5 L660.2 630.2" fill="none" stroke="#0a0a0a" stroke-width="1.4"/>
<path d="M710.2 613.3 L704.8 638.4" fill="none" stroke="#0a0a0a" stroke-width="1.4"/>
<path d="M755.6 621.7 L750.3 645.9" fill="none" stroke="#0a0a0a" stroke-width="1.4"/>
<path d="M641.6 601.4 C641.6 603 640.6 607.9 641.4 611.4 C642.2 615 643.3 619.8 646.4 622.7 C649.6 625.6 655.8 628.1 660.2 629 C664.6 629.9 669.4 628.7 672.8 628 C676.1 627.2 679 625.2 680.3 624.6" fill="none" stroke="#0a0a0a" stroke-width="1.4"/>
<path d="M680.3 624.6 C682 626.3 686.3 632.3 690.3 634.6 C694.4 636.9 700.6 638.2 704.8 638.4 C709 638.6 712.8 636.9 715.4 635.9 C718.1 634.9 719.6 633 720.5 632.4" fill="none" stroke="#0a0a0a" stroke-width="1.4"/>
<path d="M720.5 632.4 C722.3 634.1 726.9 640.5 731.8 642.8 C736.6 645.1 743.7 646.3 749.3 645.9 C755 645.5 761.5 642.7 765.6 640.3 C769.8 637.9 772.3 634 774.4 631.5 C776.5 629 777.6 626.3 778.2 625.2" fill="none" stroke="#0a0a0a" stroke-width="1.4"/>
<path d="M642.7 598.9 C643.9 597.6 647.3 593.4 650.2 591.3 C653.1 589.2 658.5 587.2 660.2 586.3" fill="none" stroke="#0a0a0a" stroke-width="1.4"/>
<path d="M642.7 598.9 C644.1 597.9 648.5 594.3 651.4 593.2 C654.4 592.1 658.8 592.5 660.2 592.3" fill="none" stroke="#0a0a0a" stroke-width="1.4"/>
<path d="M645.2 597 C646.4 596.7 650.2 595 652.7 595.1 C655.2 595.2 659 597.2 660.2 597.6" fill="none" stroke="#0a0a0a" stroke-width="1.4"/>
<path d="M665.2 603.9 C666.7 603.2 671.5 600.4 674 599.9 C676.5 599.3 678.5 600.2 680.3 600.7 C682.1 601.3 684 602.8 684.7 603.3" fill="none" stroke="#0a0a0a" stroke-width="1.4"/>
<path d="M667.1 592.3 C668.7 593 673.6 594.5 676.5 596.4 C679.5 598.2 683.3 602.1 684.7 603.3" fill="none" stroke="#0a0a0a" stroke-width="1.4"/>
<path d="M687.2 607.7 C688.6 606.7 692.1 603.2 695.4 602 C698.6 600.8 704.8 600.7 706.7 600.5" fill="none" stroke="#0a0a0a" stroke-width="1.4"/>
<path d="M690.3 606.4 C691.8 606 696.5 604 699.1 604.1 C701.7 604.3 704.9 606.9 706 607.4" fill="none" stroke="#0a0a0a" stroke-width="1.4"/>
<path d="M710.2 612.7 C711.5 612 715.4 609.2 718 608.7 C720.5 608.1 723.4 608.9 725.5 609.5 C727.6 610.2 729.7 612.1 730.5 612.7" fill="none" stroke="#0a0a0a" stroke-width="1.4"/>
<path d="M712.9 600.7 C714.6 601.5 720 603.2 723 605.1 C725.9 607.1 729.2 611.4 730.5 612.7" fill="none" stroke="#0a0a0a" stroke-width="1.4"/>
<path d="M733 616.4 C734.5 615.6 738.5 612.3 741.8 611.2 C745.1 610 751.2 609.8 753.1 609.5" fill="none" stroke="#0a0a0a" stroke-width="1.4"/>
<path d="M736.8 615.2 C738 614.8 742 612.8 744.3 612.9 C746.6 613 749.5 615.3 750.6 615.8" fill="none" stroke="#0a0a0a" stroke-width="1.4"/>
<path d="M755.6 621.5 C757.1 620.8 761.7 617.8 764.4 617.3 C767.1 616.8 770 617.6 771.9 618.3 C773.8 619 775.1 620.9 775.7 621.5" fill="none" stroke="#0a0a0a" stroke-width="1.4"/>
<path d="M757.5 610.2 C759.3 610.8 765.1 612 768.2 613.9 C771.2 615.8 774.4 620.2 775.7 621.5" fill="none" stroke="#0a0a0a" stroke-width="1.4"/>
<path d="M636.4 590.1 L642.7 599.1" fill="none" stroke="#0a0a0a" stroke-width="1.4"/>
<path d="M666.5 584.1 C668 583.8 672.4 582.5 675.3 582.3 C678.2 582.1 682.6 582.7 684.1 582.8" fill="none" stroke="#0a0a0a" stroke-width="1.4"/>
<path d="M690.3 585.1 C692 585.9 697.5 588 700.4 589.8 C703.3 591.7 706.7 595.1 707.9 596.1" fill="none" stroke="#0a0a0a" stroke-width="1.4"/>
<path d="M713.2 600.5 C714.6 599.8 718.8 597.4 721.7 596.4 C724.6 595.4 729 594.8 730.5 594.5" fill="none" stroke="#0a0a0a" stroke-width="1.4"/>
<path d="M737.4 593.8 C739 594.1 744 594.3 746.8 595.1 C749.7 595.9 753.3 598 754.6 598.6" fill="none" stroke="#0a0a0a" stroke-width="1.4"/>
<path d="M761.2 602.4 C762.6 603.7 767 607.2 769.4 610.2 C771.8 613.1 774.6 618.3 775.7 619.9" fill="none" stroke="#0a0a0a" stroke-width="1.4"/>
<path d="M899 612.8 Q920.7 590.4 942.4 612.8" fill="none" stroke="#0a0a0a" stroke-width="1.4" pathLength="100" stroke-dasharray="40 16 44 1"/>
<path d="M942.4 612.8 Q964.4 590.4 986.4 612.8" fill="none" stroke="#0a0a0a" stroke-width="1.4" pathLength="100" stroke-dasharray="52 12 36 1"/>
<path d="M986.4 612.8 Q1008.3 590.4 1030.2 612.8" fill="none" stroke="#0a0a0a" stroke-width="1.4" pathLength="100" stroke-dasharray="0 24 38 14 24 1"/>
<path d="M900.5 612.1 C901.8 611.5 905.4 609 907.9 608.6 C910.5 608.1 914.5 609.4 915.8 609.6" fill="none" stroke="#0a0a0a" stroke-width="1.4"/>
<path d="M921.6 612.1 C922.9 611.4 926.9 608.2 929.5 607.7 C932.2 607.2 936.1 608.9 937.4 609.2" fill="none" stroke="#0a0a0a" stroke-width="1.4"/>
<path d="M943.2 612.5 C944.5 611.7 948.4 608.4 951.1 607.9 C953.9 607.4 958.2 609.3 959.6 609.6" fill="none" stroke="#0a0a0a" stroke-width="1.4"/>
<path d="M965.4 612.1 C966.7 611.4 970.5 608.3 973.3 607.9 C976 607.6 980.3 609.7 981.7 610" fill="none" stroke="#0a0a0a" stroke-width="1.4"/>
<path d="M987 612.3 C988.4 611.5 992.6 607.8 995.4 607.4 C998.2 606.9 1002.4 609.2 1003.8 609.6" fill="none" stroke="#0a0a0a" stroke-width="1.4"/>
<path d="M1009.1 612.1 C1010.5 611.3 1014.7 607.8 1017.5 607.4 C1020.3 607 1024.6 609.2 1026 609.6" fill="none" stroke="#0a0a0a" stroke-width="1.4"/>
<text x="497" y="368.4" font-family="'Liberation Serif', serif" font-size="10" fill="#0a0a0a" text-anchor="start"></text>
<path d="M1170.6 368.3 L1170.6 639.3" fill="none" stroke="#0a0a0a" stroke-width="1.7"/>
<path d="M1231.9 368.3 L1231.9 702.2" fill="none" stroke="#0a0a0a" stroke-width="1.4"/>
<path d="M1381.4 477.2 L1381.4 639.3" fill="none" stroke="#0a0a0a" stroke-width="1.4"/>
<path d="M1441.5 477.2 L1441.5 702.2" fill="none" stroke="#0a0a0a" stroke-width="1.4"/>
<path d="M1170.6 368.3 L1240.6 368.3" fill="none" stroke="#0a0a0a" stroke-width="1.4"/>
<path d="M1170.6 477.2 L1441.5 477.2" fill="none" stroke="#0a0a0a" stroke-width="1.4"/>
<path d="M1170.6 530.4 L1441.5 530.4" fill="none" stroke="#0a0a0a" stroke-width="1.4"/>
<path d="M1231.9 639.3 L1381.4 639.3" fill="none" stroke="#0a0a0a" stroke-width="1.4"/>
<path d="M1231.9 678.9 L1318.9 678.9" fill="none" stroke="#0a0a0a" stroke-width="1.4"/>
<path d="M1356.7 678.9 L1441.5 678.9" fill="none" stroke="#0a0a0a" stroke-width="1.4"/>
<path d="M1330.6 669.6 L1349.8 669.6 L1349.8 688.5 L1330.6 688.5Z" fill="none" stroke="#0a0a0a" stroke-width="0.9"/>
<path d="M1187.2 369.5 C1187.5 372.8 1187.5 381.6 1189.1 389.3 C1190.7 397 1193.5 407 1197 415.8 C1200.5 424.6 1205.4 434.7 1210.2 442.2 C1215 449.7 1221.2 456.1 1226 460.7 C1230.8 465.3 1233.9 467.3 1239.2 469.9 C1244.5 472.4 1251.1 474.8 1257.7 476 C1264.3 477.2 1270.9 477.1 1278.9 477.3 C1286.9 477.5 1293.9 477.1 1305.8 477.3 C1317.7 477.5 1337.9 477.2 1350.5 478.3 C1363.1 479.4 1371.7 480.6 1381.4 484.2 C1391.1 487.8 1400.8 493 1408.8 499.6 C1416.8 506.2 1424.2 515.7 1429.4 523.7 C1434.6 531.7 1437.7 540.3 1439.7 547.7 C1441.7 555.1 1442.1 560.9 1441.5 568.3 C1440.9 575.7 1438.9 584.9 1436.3 592.3 C1433.7 599.7 1430.7 605 1426 612.9 C1421.3 620.8 1411.2 635 1408.2 639.4" fill="none" stroke="#0a0a0a" stroke-width="2.6"/>
<path d="M1187.2 369.5 C1185.8 372.4 1181 380.3 1178.5 386.7 C1176 393.1 1173.3 400.8 1171.9 407.8 C1170.5 414.9 1170.1 421.9 1170 429 C1169.9 436.1 1170.3 443.1 1171.1 450.1 C1171.8 457.1 1172.6 464.2 1174.5 471.2 C1176.4 478.2 1179.2 485.9 1182.5 492.3 C1185.8 498.7 1189.7 504.6 1194.3 509.5 C1198.9 514.4 1204 518 1210.2 521.4 C1216.5 524.8 1224.8 528.2 1231.8 529.9 C1238.8 531.6 1245.4 531.2 1252.4 531.4 C1259.4 531.6 1263 531 1273.6 530.9 C1284.2 530.8 1303.9 529.7 1316.1 530.5 C1328.3 531.3 1337.3 532.8 1347 535.7 C1356.7 538.6 1366.5 542.3 1374.5 547.7 C1382.5 553.1 1389.9 560.9 1395.1 568.3 C1400.2 575.7 1403.1 584.3 1405.4 592.3 C1407.7 600.3 1408.3 608.5 1408.8 616.4 C1409.3 624.2 1408.3 635.6 1408.2 639.4" fill="none" stroke="#0a0a0a" stroke-width="2.6"/>
<path d="M1170.6 368.3 Q1178.3 359.9 1185.9 368.3" fill="none" stroke="#0a0a0a" stroke-width="1.4"/>
<path d="M1216.6 368.3 Q1224.2 359.9 1231.9 368.3" fill="none" stroke="#0a0a0a" stroke-width="1.4"/>
<path d="M1192.8 364.9 C1193.6 365.1 1196 365.3 1197.4 365.9 C1198.8 366.5 1200.6 367.9 1201.2 368.3" fill="none" stroke="#0a0a0a" stroke-width="1.4"/>
<path d="M1201.2 368.3 C1201.9 367.9 1203.7 366.5 1205.1 365.9 C1206.5 365.3 1208.9 365.1 1209.7 364.9" fill="none" stroke="#0a0a0a" stroke-width="1.4"/>
<path d="M1170.6 368.3 Q1197.4 395.5 1170.6 422.8" fill="none" stroke="#0a0a0a" stroke-width="1.4" stroke-dasharray="15 8"/>
<path d="M1170.6 422.8 Q1197.4 450 1170.6 477.2" fill="none" stroke="#0a0a0a" stroke-width="1.4" stroke-dasharray="15 8"/>
<path d="M1170.6 530.4 Q1197.8 557.6 1170.6 584.8" fill="none" stroke="#0a0a0a" stroke-width="1.4" stroke-dasharray="17 8"/>
<path d="M1170.6 584.8 Q1197.8 612.1 1170.6 639.3" fill="none" stroke="#0a0a0a" stroke-width="1.4" stroke-dasharray="17 8"/>
<path d="M1177.5 415 L1171 422 L1178.5 430" fill="none" stroke="#0a0a0a" stroke-width="1.4"/>
<path d="M1177.5 577 L1171 585 L1178 592.5" fill="none" stroke="#0a0a0a" stroke-width="1.4"/>
<path d="M1231.9 530.4 Q1246.9 515 1261.8 530.4" fill="none" stroke="#0a0a0a" stroke-width="1.4" pathLength="100" stroke-dasharray="0 30 70 1"/>
<path d="M1261.8 530.4 Q1276.8 515 1291.8 530.4" fill="none" stroke="#0a0a0a" stroke-width="1.4" pathLength="100" stroke-dasharray="0 15 58 28"/>
<path d="M1291.8 530.4 Q1306.8 515 1321.7 530.4" fill="none" stroke="#0a0a0a" stroke-width="1.4" pathLength="100" stroke-dasharray="50 22 28 1"/>
<path d="M1321.7 530.4 Q1336.7 515 1351.7 530.4" fill="none" stroke="#0a0a0a" stroke-width="1.4" pathLength="100" stroke-dasharray="22 20 58 1"/>
<path d="M1351.7 530.4 Q1366.6 515 1381.6 530.4" fill="none" stroke="#0a0a0a" stroke-width="1.4" pathLength="100" stroke-dasharray="0 17 60 24"/>
<path d="M1381.6 530.4 Q1396.6 515 1411.6 530.4" fill="none" stroke="#0a0a0a" stroke-width="1.4" pathLength="100" stroke-dasharray="48 22 30 1"/>
<path d="M1411.6 530.4 Q1426.5 515 1441.5 530.4" fill="none" stroke="#0a0a0a" stroke-width="1.4" pathLength="100" stroke-dasharray="22 20 58 1"/>
<path d="M1170.6 530.4 Q1185.9 517.6 1201.2 530.4" fill="none" stroke="#0a0a0a" stroke-width="1.4" stroke-dasharray="13 6"/>
<path d="M1201.2 530.4 Q1216.6 517.6 1231.9 530.4" fill="none" stroke="#0a0a0a" stroke-width="1.4" stroke-dasharray="13 6"/>
<path d="M1170.6 519.6 Q1185.9 503.2 1201.2 519.6" fill="none" stroke="#0a0a0a" stroke-width="1.4" stroke-dasharray="12 6"/>
<path d="M1201.2 519.6 Q1216.6 503.2 1231.9 519.6" fill="none" stroke="#0a0a0a" stroke-width="1.4" stroke-dasharray="12 6"/>
<path d="M1174 472 C1174.8 475 1177.6 484.8 1179 490 C1180.4 495.2 1181.8 499.3 1182.5 503 C1183.2 506.7 1183.1 510.5 1183.2 512" fill="none" stroke="#0a0a0a" stroke-width="1.4" stroke-dasharray="9 5"/>
<path d="M1381.4 635.3 Q1388 648.3 1408.2 639.3" fill="none" stroke="#0a0a0a" stroke-width="1.4" stroke-dasharray="13 6"/>
<path d="M1408.2 639.3 Q1428 648.3 1441.5 635.3" fill="none" stroke="#0a0a0a" stroke-width="1.4" stroke-dasharray="13 6"/>
</svg>
</body></html>
